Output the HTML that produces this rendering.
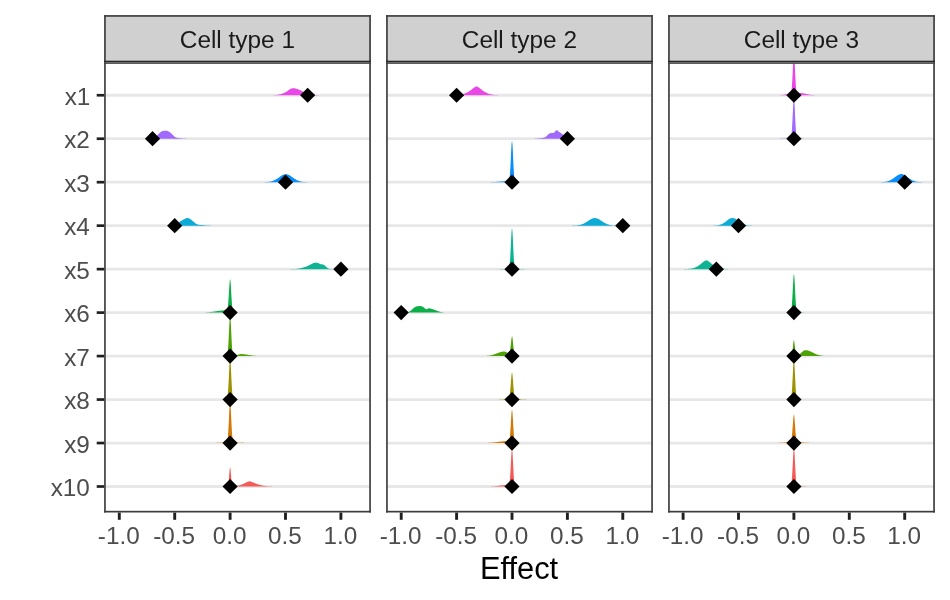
<!DOCTYPE html>
<html><head><meta charset="utf-8"><title>Effect</title>
<style>html,body{margin:0;padding:0;background:#fff}svg{display:block;will-change:transform}text{font-family:"Liberation Sans",sans-serif}</style></head><body>
<svg width="950" height="600" viewBox="0 0 950 600">
<rect width="950" height="600" fill="#fff"/>
<defs>
<clipPath id="cp0"><rect x="105" y="62.9" width="265" height="448.8"/></clipPath>
<clipPath id="cp1"><rect x="387" y="62.9" width="265" height="448.8"/></clipPath>
<clipPath id="cp2"><rect x="669" y="62.9" width="265" height="448.8"/></clipPath>
</defs>
<g clip-path="url(#cp0)">
<line x1="105" x2="370" y1="95.25" y2="95.25" stroke="#E7E7E7" stroke-width="2.8"/>
<line x1="105" x2="370" y1="138.72" y2="138.72" stroke="#E7E7E7" stroke-width="2.8"/>
<line x1="105" x2="370" y1="182.19" y2="182.19" stroke="#E7E7E7" stroke-width="2.8"/>
<line x1="105" x2="370" y1="225.67" y2="225.67" stroke="#E7E7E7" stroke-width="2.8"/>
<line x1="105" x2="370" y1="269.14" y2="269.14" stroke="#E7E7E7" stroke-width="2.8"/>
<line x1="105" x2="370" y1="312.61" y2="312.61" stroke="#E7E7E7" stroke-width="2.8"/>
<line x1="105" x2="370" y1="356.08" y2="356.08" stroke="#E7E7E7" stroke-width="2.8"/>
<line x1="105" x2="370" y1="399.55" y2="399.55" stroke="#E7E7E7" stroke-width="2.8"/>
<line x1="105" x2="370" y1="443.03" y2="443.03" stroke="#E7E7E7" stroke-width="2.8"/>
<line x1="105" x2="370" y1="486.50" y2="486.50" stroke="#E7E7E7" stroke-width="2.8"/>
<path d="M256.90 95.25L256.9 95.25L257.4 95.25L257.9 95.25L258.4 95.25L258.9 95.25L259.4 95.25L259.9 95.25L260.4 95.25L260.9 95.25L261.4 95.25L261.9 95.25L262.4 95.25L262.9 95.25L263.4 95.25L263.9 95.25L264.4 95.25L264.9 95.25L265.4 95.25L265.9 95.25L266.4 95.25L266.9 95.25L267.4 95.25L267.9 95.25L268.4 95.25L268.9 95.24L269.4 95.24L269.9 95.24L270.4 95.23L270.9 95.22L271.4 95.22L271.9 95.20L272.4 95.19L272.9 95.17L273.4 95.15L273.9 95.12L274.4 95.09L274.9 95.05L275.4 95.01L275.9 94.96L276.4 94.90L276.9 94.84L277.4 94.76L277.9 94.68L278.4 94.60L278.9 94.50L279.4 94.40L279.9 94.29L280.4 94.18L280.9 94.06L281.4 93.92L281.9 93.78L282.4 93.62L282.9 93.45L283.4 93.27L283.9 93.06L284.4 92.84L284.9 92.60L285.4 92.34L285.9 92.05L286.4 91.74L286.9 91.41L287.4 91.06L287.9 90.69L288.4 90.32L288.9 89.95L289.4 89.59L289.9 89.26L290.4 88.95L290.9 88.68L291.4 88.47L291.9 88.31L292.4 88.22L292.9 88.20L293.4 88.22L293.9 88.27L294.4 88.33L294.9 88.41L295.4 88.51L295.9 88.62L296.4 88.76L296.9 88.91L297.4 89.07L297.9 89.25L298.4 89.44L298.9 89.64L299.4 89.86L299.9 90.08L300.4 90.30L300.9 90.53L301.4 90.77L301.9 91.00L302.4 91.24L302.9 91.47L303.4 91.71L303.9 91.93L304.4 92.16L304.9 92.37L305.4 92.58L305.9 92.78L306.4 92.98L306.9 93.16L307.4 93.34L307.9 93.50L308.4 93.66L308.9 93.81L309.4 93.95L309.9 94.07L310.4 94.19L310.9 94.30L311.4 94.40L311.9 94.50L312.4 94.58L312.9 94.66L313.4 94.73L313.9 94.79L314.4 94.85L314.9 94.90L315.4 94.94L315.9 94.98L316.4 95.02L316.9 95.05L317.4 95.08L317.9 95.10L318.4 95.12L318.9 95.14L319.4 95.16L319.9 95.17L320.4 95.18L320.9 95.19L321.4 95.20L321.9 95.21L322.4 95.22L322.9 95.22L323.4 95.23L323.9 95.23L324.4 95.23L324.9 95.24L325.4 95.24L325.9 95.24L326.4 95.24L326.9 95.24L327.4 95.25L327.9 95.25L328.4 95.25L328.9 95.25L328.90 95.25Z" fill="#E849E6"/>
<path d="M139.10 138.72L139.1 138.72L139.6 138.72L140.1 138.72L140.6 138.72L141.1 138.72L141.6 138.72L142.1 138.72L142.6 138.72L143.1 138.72L143.6 138.72L144.1 138.72L144.6 138.72L145.1 138.72L145.6 138.72L146.1 138.72L146.6 138.72L147.1 138.72L147.6 138.72L148.1 138.72L148.6 138.72L149.1 138.72L149.6 138.71L150.1 138.71L150.6 138.69L151.1 138.67L151.6 138.63L152.1 138.58L152.6 138.50L153.1 138.38L153.6 138.23L154.1 138.02L154.6 137.76L155.1 137.44L155.6 137.06L156.1 136.63L156.6 136.14L157.1 135.61L157.6 135.06L158.1 134.49L158.6 133.93L159.1 133.39L159.6 132.89L160.1 132.43L160.6 132.03L161.1 131.69L161.6 131.42L162.1 131.20L162.6 131.04L163.1 130.94L163.6 130.87L164.1 130.84L164.6 130.82L165.1 130.82L165.6 130.82L166.1 130.84L166.6 130.87L167.1 130.93L167.6 131.04L168.1 131.19L168.6 131.40L169.1 131.67L169.6 132.00L170.1 132.39L170.6 132.83L171.1 133.31L171.6 133.82L172.1 134.34L172.6 134.86L173.1 135.37L173.6 135.84L174.1 136.26L174.6 136.64L175.1 136.96L175.6 137.23L176.1 137.45L176.6 137.63L177.1 137.78L177.6 137.90L178.1 137.99L178.6 138.06L179.1 138.12L179.6 138.18L180.1 138.22L180.6 138.27L181.1 138.31L181.6 138.36L182.1 138.40L182.6 138.44L183.1 138.48L183.6 138.51L184.1 138.54L184.6 138.57L185.1 138.60L185.6 138.62L186.1 138.64L186.6 138.66L187.1 138.67L187.6 138.68L188.1 138.69L188.6 138.70L189.1 138.70L189.6 138.71L190.1 138.71L190.6 138.72L191.1 138.72L191.6 138.72L192.1 138.72L192.6 138.72L193.1 138.72L193.6 138.72L194.1 138.72L194.6 138.72L195.1 138.72L195.10 138.72Z" fill="#A16AFD"/>
<path d="M258.60 182.19L258.6 182.19L259.1 182.19L259.6 182.19L260.1 182.19L260.6 182.19L261.1 182.18L261.6 182.18L262.1 182.18L262.6 182.17L263.1 182.16L263.6 182.16L264.1 182.14L264.6 182.13L265.1 182.12L265.6 182.10L266.1 182.07L266.6 182.05L267.1 182.01L267.6 181.97L268.1 181.92L268.6 181.87L269.1 181.80L269.6 181.73L270.1 181.64L270.6 181.54L271.1 181.42L271.6 181.29L272.1 181.14L272.6 180.98L273.1 180.80L273.6 180.59L274.1 180.37L274.6 180.13L275.1 179.87L275.6 179.60L276.1 179.30L276.6 178.99L277.1 178.67L277.6 178.33L278.1 177.98L278.6 177.63L279.1 177.27L279.6 176.91L280.1 176.56L280.6 176.22L281.1 175.89L281.6 175.58L282.1 175.29L282.6 175.03L283.1 174.80L283.6 174.60L284.1 174.44L284.6 174.32L285.1 174.24L285.6 174.20L286.1 174.20L286.6 174.25L287.1 174.34L287.6 174.47L288.1 174.64L288.6 174.84L289.1 175.08L289.6 175.35L290.1 175.64L290.6 175.96L291.1 176.29L291.6 176.63L292.1 176.99L292.6 177.34L293.1 177.70L293.6 178.05L294.1 178.40L294.6 178.73L295.1 179.05L295.6 179.36L296.1 179.65L296.6 179.93L297.1 180.18L297.6 180.42L298.1 180.64L298.6 180.83L299.1 181.01L299.6 181.17L300.1 181.32L300.6 181.45L301.1 181.56L301.6 181.66L302.1 181.74L302.6 181.82L303.1 181.88L303.6 181.93L304.1 181.98L304.6 182.02L305.1 182.05L305.6 182.08L306.1 182.10L306.6 182.12L307.1 182.13L307.6 182.15L308.1 182.16L308.6 182.17L309.1 182.17L309.6 182.18L310.1 182.18L310.6 182.18L311.1 182.19L311.6 182.19L312.1 182.19L312.6 182.19L312.60 182.19Z" fill="#0A8EFC"/>
<path d="M154.60 225.67L154.6 225.67L155.1 225.67L155.6 225.67L156.1 225.67L156.6 225.67L157.1 225.67L157.6 225.67L158.1 225.67L158.6 225.67L159.1 225.67L159.6 225.67L160.1 225.67L160.6 225.67L161.1 225.67L161.6 225.67L162.1 225.67L162.6 225.67L163.1 225.67L163.6 225.67L164.1 225.67L164.6 225.67L165.1 225.67L165.6 225.67L166.1 225.67L166.6 225.67L167.1 225.67L167.6 225.67L168.1 225.67L168.6 225.67L169.1 225.67L169.6 225.67L170.1 225.67L170.6 225.66L171.1 225.66L171.6 225.66L172.1 225.64L172.6 225.62L173.1 225.58L173.6 225.51L174.1 225.41L174.6 225.27L175.1 225.07L175.6 224.83L176.1 224.53L176.6 224.19L177.1 223.81L177.6 223.41L178.1 223.00L178.6 222.60L179.1 222.21L179.6 221.84L180.1 221.51L180.6 221.19L181.1 220.90L181.6 220.62L182.1 220.34L182.6 220.07L183.1 219.79L183.6 219.50L184.1 219.22L184.6 218.93L185.1 218.66L185.6 218.41L186.1 218.21L186.6 218.06L187.1 217.98L187.6 217.97L188.1 218.04L188.6 218.18L189.1 218.39L189.6 218.66L190.1 218.97L190.6 219.32L191.1 219.70L191.6 220.09L192.1 220.50L192.6 220.92L193.1 221.36L193.6 221.80L194.1 222.24L194.6 222.67L195.1 223.09L195.6 223.47L196.1 223.82L196.6 224.12L197.1 224.36L197.6 224.55L198.1 224.68L198.6 224.78L199.1 224.86L199.6 224.91L200.1 224.95L200.6 224.99L201.1 225.02L201.6 225.05L202.1 225.08L202.6 225.12L203.1 225.16L203.6 225.20L204.1 225.24L204.6 225.28L205.1 225.33L205.6 225.37L206.1 225.40L206.6 225.44L207.1 225.47L207.6 225.50L208.1 225.53L208.6 225.55L209.1 225.57L209.6 225.59L210.1 225.60L210.6 225.62L211.1 225.63L211.6 225.64L212.1 225.64L212.6 225.65L213.1 225.65L213.6 225.66L214.1 225.66L214.6 225.66L215.1 225.66L215.6 225.66L216.1 225.66L216.6 225.66L217.1 225.66L217.6 225.67L218.1 225.67L218.6 225.67L219.1 225.67L219.10 225.67Z" fill="#0DAAD6"/>
<path d="M285.60 269.14L285.6 269.14L286.1 269.14L286.6 269.14L287.1 269.14L287.6 269.14L288.1 269.14L288.6 269.13L289.1 269.13L289.6 269.13L290.1 269.13L290.6 269.12L291.1 269.12L291.6 269.11L292.1 269.10L292.6 269.09L293.1 269.08L293.6 269.06L294.1 269.04L294.6 269.02L295.1 268.99L295.6 268.95L296.1 268.91L296.6 268.86L297.1 268.80L297.6 268.74L298.1 268.67L298.6 268.59L299.1 268.50L299.6 268.41L300.1 268.31L300.6 268.20L301.1 268.08L301.6 267.96L302.1 267.84L302.6 267.70L303.1 267.56L303.6 267.42L304.1 267.27L304.6 267.12L305.1 266.97L305.6 266.81L306.1 266.65L306.6 266.48L307.1 266.29L307.6 266.09L308.1 265.86L308.6 265.62L309.1 265.37L309.6 265.10L310.1 264.83L310.6 264.55L311.1 264.27L311.6 264.00L312.1 263.75L312.6 263.51L313.1 263.29L313.6 263.10L314.1 262.93L314.6 262.80L315.1 262.70L315.6 262.64L316.1 262.60L316.6 262.63L317.1 262.73L317.6 262.90L318.1 263.12L318.6 263.36L319.1 263.60L319.6 263.82L320.1 263.99L320.6 264.13L321.1 264.22L321.6 264.29L322.1 264.35L322.6 264.45L323.1 264.60L323.6 264.82L324.1 265.11L324.6 265.46L325.1 265.85L325.6 266.27L326.1 266.70L326.6 267.13L327.1 267.52L327.6 267.88L328.1 268.19L328.6 268.44L329.1 268.64L329.6 268.79L330.1 268.91L330.6 268.99L331.1 269.04L331.6 269.08L332.1 269.10L332.6 269.12L333.1 269.13L333.6 269.13L334.1 269.13L334.6 269.14L335.1 269.14L335.6 269.14L336.1 269.14L336.6 269.14L337.1 269.14L337.6 269.14L338.1 269.14L338.6 269.14L339.1 269.14L339.6 269.14L340.1 269.14L340.6 269.14L341.1 269.14L341.6 269.14L342.1 269.14L342.10 269.14Z" fill="#0DB392"/>
<path d="M189.10 312.61L189.1 312.61L189.6 312.61L190.1 312.61L190.6 312.61L191.1 312.61L191.6 312.61L192.1 312.61L192.6 312.61L193.1 312.61L193.6 312.61L194.1 312.60L194.6 312.60L195.1 312.60L195.6 312.60L196.1 312.60L196.6 312.60L197.1 312.59L197.6 312.59L198.1 312.59L198.6 312.58L199.1 312.58L199.6 312.57L200.1 312.56L200.6 312.56L201.1 312.55L201.6 312.54L202.1 312.53L202.6 312.51L203.1 312.50L203.6 312.48L204.1 312.47L204.6 312.45L205.1 312.42L205.6 312.40L206.1 312.37L206.6 312.34L207.1 312.31L207.6 312.28L208.1 312.24L208.6 312.20L209.1 312.16L209.6 312.11L210.1 312.06L210.6 312.01L211.1 311.95L211.6 311.89L212.1 311.83L212.6 311.77L213.1 311.70L213.6 311.64L214.1 311.57L214.6 311.49L215.1 311.42L215.6 311.35L216.1 311.27L216.6 311.20L217.1 311.12L217.6 311.05L218.1 310.98L218.6 310.90L219.1 310.84L219.6 310.77L220.1 310.71L220.6 310.65L221.1 310.59L221.6 310.54L222.1 310.49L222.6 310.45L223.1 310.42L223.6 310.38L224.1 310.36L224.3 310.35L224.5 310.34L224.7 310.33L224.9 310.32L225.1 310.31L225.3 310.31L225.5 310.31L225.7 310.32L225.9 310.34L226.1 310.34L226.3 310.34L226.5 310.30L226.7 310.22L226.9 310.06L227.1 309.78L227.3 309.33L227.5 308.64L227.7 307.65L227.9 306.30L228.1 304.52L228.3 302.29L228.5 299.62L228.7 296.57L228.9 293.26L229.1 289.87L229.3 286.61L229.5 283.73L229.7 281.47L229.9 280.04L230.1 279.26L230.3 279.86L230.5 281.41L230.7 283.79L230.9 286.79L231.1 290.18L231.3 293.70L231.5 297.13L231.7 300.30L231.9 303.09L232.1 305.43L232.3 307.32L232.5 308.79L232.7 309.88L232.9 310.67L233.1 311.22L233.3 311.60L233.5 311.84L233.7 312.00L233.9 312.10L234.1 312.17L234.3 312.22L234.5 312.25L234.7 312.27L234.9 312.29L235.1 312.31L235.3 312.32L235.5 312.33L235.7 312.34L235.9 312.36L236.1 312.37L236.3 312.38L236.8 312.40L237.3 312.42L237.8 312.44L238.3 312.45L238.8 312.47L239.3 312.48L239.8 312.50L240.3 312.51L240.8 312.52L241.3 312.52L241.8 312.53L242.3 312.54L242.8 312.55L243.3 312.55L243.8 312.56L244.3 312.56L244.8 312.57L245.3 312.57L245.8 312.58L246.3 312.58L246.8 312.58L247.3 312.58L247.8 312.59L248.3 312.59L248.8 312.59L249.3 312.59L249.8 312.59L250.3 312.60L250.8 312.60L251.3 312.60L251.8 312.60L252.3 312.60L252.8 312.60L253.3 312.60L253.8 312.60L254.3 312.60L254.8 312.60L255.3 312.60L255.8 312.61L256.3 312.61L256.8 312.61L257.3 312.61L257.8 312.61L258.3 312.61L258.8 312.61L259.3 312.61L259.8 312.61L260.3 312.61L260.8 312.61L260.80 312.61Z" fill="#0CAE47"/>
<path d="M213.10 356.08L213.1 356.08L213.6 356.08L214.1 356.08L214.6 356.08L215.1 356.08L215.6 356.08L216.1 356.08L216.6 356.08L217.1 356.08L217.6 356.08L218.1 356.08L218.6 356.08L219.1 356.08L219.6 356.08L220.1 356.08L220.6 356.08L221.1 356.08L221.6 356.08L222.1 356.08L222.6 356.08L223.1 356.08L223.6 356.08L224.1 356.08L224.3 356.08L224.5 356.08L224.7 356.08L224.9 356.08L225.1 356.08L225.3 356.08L225.5 356.07L225.7 356.06L225.9 356.05L226.1 356.01L226.3 355.96L226.5 355.85L226.7 355.68L226.9 355.41L227.1 354.97L227.3 354.32L227.5 353.38L227.7 352.05L227.9 350.27L228.1 347.96L228.3 345.08L228.5 341.66L228.7 337.76L228.9 333.55L229.1 329.23L229.3 325.08L229.5 321.42L229.7 318.54L229.9 316.70L230.1 316.07L230.3 316.70L230.5 318.53L230.7 321.40L230.9 325.06L231.1 329.20L231.3 333.51L231.5 337.72L231.7 341.61L231.9 345.02L232.1 347.89L232.3 350.19L232.5 351.96L232.7 353.27L232.9 354.20L233.1 354.83L233.3 355.24L233.5 355.49L233.7 355.64L233.9 355.71L234.1 355.74L234.3 355.74L234.5 355.73L234.7 355.70L234.9 355.66L235.1 355.62L235.3 355.57L235.5 355.53L235.7 355.47L235.9 355.42L236.1 355.36L236.3 355.30L236.8 355.14L237.3 354.97L237.8 354.80L238.3 354.63L238.8 354.47L239.3 354.33L239.8 354.22L240.3 354.13L240.8 354.09L241.3 354.08L241.8 354.09L242.3 354.11L242.8 354.14L243.3 354.18L243.8 354.23L244.3 354.28L244.8 354.34L245.3 354.41L245.8 354.49L246.3 354.56L246.8 354.65L247.3 354.73L247.8 354.82L248.3 354.90L248.8 354.99L249.3 355.07L249.8 355.16L250.3 355.24L250.8 355.32L251.3 355.39L251.8 355.46L252.3 355.53L252.8 355.59L253.3 355.64L253.8 355.70L254.3 355.74L254.8 355.79L255.3 355.83L255.8 355.86L256.3 355.89L256.8 355.92L257.3 355.94L257.8 355.97L258.3 355.98L258.8 356.00L259.3 356.01L259.8 356.03L260.3 356.04L260.8 356.04L261.3 356.05L261.8 356.06L262.3 356.06L262.8 356.07L263.3 356.07L263.8 356.07L264.3 356.07L264.8 356.08L265.3 356.08L265.8 356.08L266.3 356.08L266.8 356.08L267.3 356.08L267.8 356.08L268.3 356.08L268.8 356.08L268.80 356.08Z" fill="#4FA206"/>
<path d="M206.10 399.55L206.1 399.55L206.6 399.55L207.1 399.55L207.6 399.55L208.1 399.55L208.6 399.55L209.1 399.55L209.6 399.55L210.1 399.55L210.6 399.54L211.1 399.54L211.6 399.54L212.1 399.54L212.6 399.54L213.1 399.54L213.6 399.53L214.1 399.53L214.6 399.53L215.1 399.53L215.6 399.52L216.1 399.52L216.6 399.51L217.1 399.51L217.6 399.50L218.1 399.49L218.6 399.49L219.1 399.48L219.6 399.47L220.1 399.46L220.6 399.44L221.1 399.43L221.6 399.41L222.1 399.39L222.6 399.37L223.1 399.35L223.6 399.32L224.1 399.29L224.3 399.27L224.5 399.26L224.7 399.24L224.9 399.23L225.1 399.21L225.3 399.19L225.5 399.17L225.7 399.14L225.9 399.10L226.1 399.04L226.3 398.96L226.5 398.84L226.7 398.64L226.9 398.34L227.1 397.88L227.3 397.20L227.5 396.22L227.7 394.87L227.9 393.05L228.1 390.70L228.3 387.79L228.5 384.33L228.7 380.40L228.9 376.13L229.1 371.77L229.3 367.58L229.5 363.87L229.7 360.94L229.9 359.05L230.1 358.35L230.3 359.05L230.5 360.94L230.7 363.87L230.9 367.58L231.1 371.77L231.3 376.13L231.5 380.40L231.7 384.33L231.9 387.79L232.1 390.70L232.3 393.05L232.5 394.87L232.7 396.22L232.9 397.20L233.1 397.88L233.3 398.34L233.5 398.64L233.7 398.84L233.9 398.96L234.1 399.04L234.3 399.10L234.5 399.14L234.7 399.17L234.9 399.19L235.1 399.21L235.3 399.23L235.5 399.24L235.7 399.26L235.9 399.27L236.1 399.29L236.3 399.30L236.8 399.33L237.3 399.36L237.8 399.38L238.3 399.40L238.8 399.42L239.3 399.43L239.8 399.45L240.3 399.46L240.8 399.47L241.3 399.48L241.8 399.49L242.3 399.50L242.8 399.50L243.3 399.51L243.8 399.51L244.3 399.52L244.8 399.52L245.3 399.53L245.8 399.53L246.3 399.53L246.8 399.54L247.3 399.54L247.8 399.54L248.3 399.54L248.8 399.54L249.3 399.54L249.8 399.55L250.3 399.55L250.8 399.55L251.3 399.55L251.8 399.55L252.3 399.55L252.8 399.55L253.3 399.55L253.8 399.55L253.80 399.55Z" fill="#9E9100"/>
<path d="M194.10 443.03L194.1 443.02L194.6 443.02L195.1 443.02L195.6 443.02L196.1 443.02L196.6 443.02L197.1 443.02L197.6 443.02L198.1 443.02L198.6 443.02L199.1 443.02L199.6 443.02L200.1 443.02L200.6 443.02L201.1 443.01L201.6 443.01L202.1 443.01L202.6 443.01L203.1 443.01L203.6 443.01L204.1 443.01L204.6 443.00L205.1 443.00L205.6 443.00L206.1 443.00L206.6 443.00L207.1 442.99L207.6 442.99L208.1 442.99L208.6 442.98L209.1 442.98L209.6 442.98L210.1 442.97L210.6 442.97L211.1 442.96L211.6 442.96L212.1 442.95L212.6 442.94L213.1 442.94L213.6 442.93L214.1 442.92L214.6 442.91L215.1 442.90L215.6 442.89L216.1 442.88L216.6 442.87L217.1 442.85L217.6 442.84L218.1 442.82L218.6 442.81L219.1 442.79L219.6 442.77L220.1 442.74L220.6 442.72L221.1 442.69L221.6 442.66L222.1 442.63L222.6 442.60L223.1 442.56L223.6 442.52L224.1 442.47L224.3 442.46L224.5 442.44L224.7 442.42L224.9 442.39L225.1 442.37L225.3 442.35L225.5 442.32L225.7 442.29L225.9 442.25L226.1 442.19L226.3 442.10L226.5 441.98L226.7 441.78L226.9 441.48L227.1 441.02L227.3 440.35L227.5 439.38L227.7 438.04L227.9 436.25L228.1 433.93L228.3 431.06L228.5 427.64L228.7 423.75L228.9 419.55L229.1 415.24L229.3 411.11L229.5 407.45L229.7 404.56L229.9 402.70L230.1 402.03L230.3 402.70L230.5 404.56L230.7 407.45L230.9 411.11L231.1 415.24L231.3 419.55L231.5 423.75L231.7 427.64L231.9 431.06L232.1 433.93L232.3 436.25L232.5 438.04L232.7 439.38L232.9 440.35L233.1 441.02L233.3 441.48L233.5 441.78L233.7 441.98L233.9 442.10L234.1 442.19L234.3 442.25L234.5 442.29L234.7 442.32L234.9 442.35L235.1 442.37L235.3 442.39L235.5 442.42L235.7 442.44L235.9 442.46L236.1 442.47L236.3 442.49L236.8 442.53L237.3 442.57L237.8 442.61L238.3 442.64L238.8 442.67L239.3 442.70L239.8 442.73L240.3 442.75L240.8 442.77L241.3 442.79L241.8 442.81L242.3 442.83L242.8 442.85L243.3 442.86L243.8 442.87L244.3 442.89L244.8 442.90L245.3 442.91L245.8 442.92L246.3 442.93L246.8 442.93L247.3 442.94L247.8 442.95L248.3 442.95L248.8 442.96L249.3 442.96L249.8 442.97L250.3 442.97L250.8 442.98L251.3 442.98L251.8 442.99L252.3 442.99L252.8 442.99L253.3 442.99L253.8 443.00L254.3 443.00L254.8 443.00L255.3 443.00L255.8 443.01L256.3 443.01L256.8 443.01L257.3 443.01L257.8 443.01L258.3 443.01L258.8 443.01L259.3 443.01L259.8 443.02L260.3 443.02L260.8 443.02L261.3 443.02L261.8 443.02L262.3 443.02L262.8 443.02L263.3 443.02L263.8 443.02L264.3 443.02L264.8 443.02L265.3 443.02L265.8 443.02L265.80 443.03Z" fill="#D37905"/>
<path d="M226.30 486.50L226.3 486.47L226.5 486.46L226.7 486.45L226.9 486.43L227.1 486.39L227.3 486.31L227.5 486.16L227.7 485.91L227.9 485.49L228.1 484.84L228.3 483.87L228.5 482.52L228.7 480.77L228.9 478.62L229.1 476.17L229.3 473.62L229.5 471.20L229.7 469.20L229.9 467.87L230.1 467.40L230.3 467.85L230.5 469.17L230.7 471.16L230.9 473.57L231.1 476.11L231.3 478.54L231.5 480.68L231.7 482.42L231.9 483.75L232.1 484.71L232.3 485.35L232.5 485.75L232.7 485.99L232.9 486.12L233.1 486.18L233.3 486.21L233.5 486.21L233.7 486.20L233.9 486.19L234.1 486.18L234.3 486.16L234.5 486.14L234.7 486.12L234.9 486.10L235.1 486.08L235.6 486.02L236.1 485.96L236.6 485.88L237.1 485.80L237.6 485.71L238.1 485.62L238.6 485.51L239.1 485.39L239.6 485.26L240.1 485.12L240.6 484.97L241.1 484.81L241.6 484.63L242.1 484.44L242.6 484.24L243.1 484.03L243.6 483.81L244.1 483.58L244.6 483.34L245.1 483.10L245.6 482.85L246.1 482.60L246.6 482.36L247.1 482.12L247.6 481.89L248.1 481.68L248.6 481.50L249.1 481.36L249.6 481.30L250.1 481.38L250.6 481.51L251.1 481.66L251.6 481.83L252.1 482.02L252.6 482.22L253.1 482.43L253.6 482.63L254.1 482.85L254.6 483.05L255.1 483.26L255.6 483.47L256.1 483.66L256.6 483.86L257.1 484.04L257.6 484.22L258.1 484.39L258.6 484.55L259.1 484.70L259.6 484.85L260.1 484.99L260.6 485.11L261.1 485.23L261.6 485.35L262.1 485.45L262.6 485.55L263.1 485.63L263.6 485.72L264.1 485.79L264.6 485.86L265.1 485.93L265.6 485.98L266.1 486.04L266.6 486.08L267.1 486.13L267.6 486.17L268.1 486.20L268.6 486.24L269.1 486.27L269.6 486.29L270.1 486.31L270.6 486.34L271.1 486.35L271.6 486.37L272.1 486.39L272.6 486.40L272.60 486.50Z" fill="#F45B58"/>
<path d="M307.66 87.65L315.26 95.25L307.66 102.85L300.06 95.25Z" fill="#000"/>
<path d="M152.54 131.12L160.14 138.72L152.54 146.32L144.94 138.72Z" fill="#000"/>
<path d="M285.50 174.59L293.10 182.19L285.50 189.79L277.90 182.19Z" fill="#000"/>
<path d="M174.70 218.07L182.30 225.67L174.70 233.27L167.10 225.67Z" fill="#000"/>
<path d="M340.90 261.54L348.50 269.14L340.90 276.74L333.30 269.14Z" fill="#000"/>
<path d="M230.10 305.01L237.70 312.61L230.10 320.21L222.50 312.61Z" fill="#000"/>
<path d="M230.10 348.48L237.70 356.08L230.10 363.68L222.50 356.08Z" fill="#000"/>
<path d="M230.10 391.95L237.70 399.55L230.10 407.15L222.50 399.55Z" fill="#000"/>
<path d="M230.10 435.43L237.70 443.03L230.10 450.63L222.50 443.03Z" fill="#000"/>
<path d="M230.10 478.90L237.70 486.50L230.10 494.10L222.50 486.50Z" fill="#000"/>
</g>
<rect x="104.1" y="15.1" width="266.8" height="47.2" fill="#D0D0D0"/>
<rect x="104.1" y="15.1" width="266.8" height="1.7" fill="#414141"/>
<rect x="104.1" y="15.1" width="1.7" height="47.2" fill="#414141"/>
<rect x="369.2" y="15.1" width="1.7" height="47.2" fill="#414141"/>
<rect x="104.1" y="60.7" width="266.8" height="1.6" fill="#262626"/>
<rect x="104.1" y="62.3" width="266.8" height="1.6" fill="#4c4c4c"/>
<rect x="104.1" y="62.3" width="1.7" height="450.2" fill="#414141"/>
<rect x="369.2" y="62.3" width="1.7" height="450.2" fill="#414141"/>
<rect x="104.1" y="510.8" width="266.8" height="1.7" fill="#3c3c3c"/>
<text x="237.4" y="47.7" font-size="24.4" text-anchor="middle" fill="#1a1a1a">Cell type 1</text>
<line x1="119.30" x2="119.30" y1="512.6" y2="519.8" stroke="#202020" stroke-width="2.9"/>
<text x="118.80" y="543.7" font-size="24.3" text-anchor="middle" fill="#4d4d4d">-1.0</text>
<line x1="174.70" x2="174.70" y1="512.6" y2="519.8" stroke="#202020" stroke-width="2.9"/>
<text x="174.20" y="543.7" font-size="24.3" text-anchor="middle" fill="#4d4d4d">-0.5</text>
<line x1="230.10" x2="230.10" y1="512.6" y2="519.8" stroke="#202020" stroke-width="2.9"/>
<text x="229.60" y="543.7" font-size="24.3" text-anchor="middle" fill="#4d4d4d">0.0</text>
<line x1="285.50" x2="285.50" y1="512.6" y2="519.8" stroke="#202020" stroke-width="2.9"/>
<text x="285.00" y="543.7" font-size="24.3" text-anchor="middle" fill="#4d4d4d">0.5</text>
<line x1="340.90" x2="340.90" y1="512.6" y2="519.8" stroke="#202020" stroke-width="2.9"/>
<text x="340.40" y="543.7" font-size="24.3" text-anchor="middle" fill="#4d4d4d">1.0</text>
<g clip-path="url(#cp1)">
<line x1="387" x2="652" y1="95.25" y2="95.25" stroke="#E7E7E7" stroke-width="2.8"/>
<line x1="387" x2="652" y1="138.72" y2="138.72" stroke="#E7E7E7" stroke-width="2.8"/>
<line x1="387" x2="652" y1="182.19" y2="182.19" stroke="#E7E7E7" stroke-width="2.8"/>
<line x1="387" x2="652" y1="225.67" y2="225.67" stroke="#E7E7E7" stroke-width="2.8"/>
<line x1="387" x2="652" y1="269.14" y2="269.14" stroke="#E7E7E7" stroke-width="2.8"/>
<line x1="387" x2="652" y1="312.61" y2="312.61" stroke="#E7E7E7" stroke-width="2.8"/>
<line x1="387" x2="652" y1="356.08" y2="356.08" stroke="#E7E7E7" stroke-width="2.8"/>
<line x1="387" x2="652" y1="399.55" y2="399.55" stroke="#E7E7E7" stroke-width="2.8"/>
<line x1="387" x2="652" y1="443.03" y2="443.03" stroke="#E7E7E7" stroke-width="2.8"/>
<line x1="387" x2="652" y1="486.50" y2="486.50" stroke="#E7E7E7" stroke-width="2.8"/>
<path d="M455.00 95.25L455.0 95.09L455.5 95.06L456.0 95.04L456.5 95.00L457.0 94.97L457.5 94.93L458.0 94.89L458.5 94.84L459.0 94.78L459.5 94.72L460.0 94.65L460.5 94.57L461.0 94.49L461.5 94.39L462.0 94.29L462.5 94.17L463.0 94.04L463.5 93.90L464.0 93.75L464.5 93.59L465.0 93.41L465.5 93.21L466.0 93.00L466.5 92.77L467.0 92.53L467.5 92.27L468.0 91.99L468.5 91.70L469.0 91.39L469.5 91.06L470.0 90.72L470.5 90.37L471.0 90.00L471.5 89.63L472.0 89.24L472.5 88.86L473.0 88.47L473.5 88.09L474.0 87.72L474.5 87.37L475.0 87.04L475.5 86.75L476.0 86.51L476.5 86.36L477.0 86.44L477.5 86.66L478.0 86.95L478.5 87.28L479.0 87.64L479.5 88.02L480.0 88.42L480.5 88.82L481.0 89.22L481.5 89.62L482.0 90.01L482.5 90.39L483.0 90.75L483.5 91.11L484.0 91.44L484.5 91.76L485.0 92.06L485.5 92.34L486.0 92.61L486.5 92.86L487.0 93.09L487.5 93.30L488.0 93.49L488.5 93.67L489.0 93.84L489.5 93.99L490.0 94.13L490.5 94.25L491.0 94.36L491.5 94.46L492.0 94.55L492.5 94.64L493.0 94.71L493.5 94.77L494.0 94.83L494.5 94.88L495.0 94.93L495.5 94.97L496.0 95.01L496.5 95.04L497.0 95.07L497.5 95.09L498.0 95.11L498.00 95.25Z" fill="#E849E6"/>
<path d="M525.00 138.72L525.0 138.72L525.5 138.72L526.0 138.72L526.5 138.72L527.0 138.72L527.2 138.72L527.4 138.72L527.6 138.72L527.8 138.72L528.0 138.72L528.2 138.72L528.4 138.72L528.6 138.72L528.8 138.72L529.0 138.72L529.2 138.72L529.4 138.72L529.6 138.71L529.8 138.71L530.0 138.71L530.2 138.71L530.4 138.71L530.6 138.71L530.8 138.71L531.0 138.70L531.2 138.70L531.4 138.70L531.6 138.70L531.8 138.69L532.0 138.69L532.2 138.69L532.4 138.68L532.6 138.68L532.8 138.68L533.0 138.67L533.2 138.67L533.4 138.66L533.6 138.66L533.8 138.65L534.0 138.64L534.2 138.63L534.4 138.63L534.6 138.62L534.8 138.61L535.0 138.60L535.2 138.59L535.4 138.58L535.6 138.57L535.8 138.56L536.0 138.54L536.2 138.53L536.4 138.52L536.6 138.50L536.8 138.49L537.0 138.47L537.2 138.46L537.4 138.44L537.6 138.42L537.8 138.40L538.0 138.38L538.2 138.37L538.4 138.35L538.6 138.33L538.8 138.30L539.0 138.28L539.2 138.26L539.4 138.24L539.6 138.22L539.8 138.20L540.0 138.18L540.2 138.15L540.4 138.13L540.6 138.11L540.8 138.09L541.0 138.06L541.2 138.04L541.4 138.02L541.6 138.00L541.8 137.97L542.0 137.95L542.2 137.93L542.4 137.90L542.6 137.87L542.8 137.85L543.0 137.81L543.2 137.78L543.4 137.74L543.6 137.70L543.8 137.65L544.0 137.60L544.2 137.53L544.4 137.46L544.6 137.38L544.8 137.30L545.0 137.20L545.2 137.09L545.4 136.97L545.6 136.84L545.8 136.70L546.0 136.55L546.2 136.39L546.4 136.22L546.6 136.04L546.8 135.86L547.0 135.66L547.2 135.47L547.4 135.27L547.6 135.06L547.8 134.86L548.0 134.66L548.2 134.47L548.4 134.28L548.6 134.10L548.8 133.93L549.0 133.77L549.2 133.63L549.4 133.50L549.6 133.38L549.8 133.28L550.0 133.20L550.2 133.13L550.4 133.08L550.6 133.04L550.8 133.02L551.0 133.00L551.2 133.00L551.4 132.99L551.6 132.99L551.8 132.98L552.0 132.98L552.2 132.97L552.4 132.95L552.6 132.94L552.8 132.92L553.0 132.89L553.2 132.85L553.4 132.80L553.6 132.73L553.8 132.64L554.0 132.53L554.2 132.40L554.4 132.24L554.6 132.06L554.8 131.85L555.0 131.63L555.2 131.39L555.4 131.15L555.6 130.92L555.8 130.69L556.0 130.49L556.2 130.33L556.4 130.21L556.6 130.15L556.8 130.15L557.0 130.21L557.2 130.36L557.4 130.53L557.6 130.70L557.8 130.87L558.0 131.04L558.2 131.20L558.4 131.36L558.6 131.52L558.8 131.67L559.0 131.81L559.2 131.96L559.4 132.10L559.6 132.23L559.8 132.37L560.0 132.50L560.2 132.64L560.4 132.77L560.6 132.90L560.8 133.03L561.0 133.17L561.2 133.30L561.4 133.43L561.6 133.57L561.8 133.70L562.0 133.84L562.2 133.97L562.4 134.11L562.6 134.24L562.8 134.38L563.0 134.52L563.2 134.65L563.4 134.79L563.6 134.93L563.8 135.06L564.0 135.20L564.2 135.33L564.4 135.46L564.6 135.59L564.8 135.72L565.0 135.84L565.2 135.97L565.4 136.09L565.6 136.21L565.8 136.32L566.0 136.44L566.2 136.55L566.4 136.65L566.6 136.76L566.8 136.86L567.0 136.96L567.2 137.05L567.4 137.14L567.6 137.23L567.8 137.31L568.0 137.40L568.2 137.47L568.4 137.55L568.6 137.62L568.8 137.69L569.0 137.75L569.2 137.82L569.4 137.87L569.6 137.93L569.8 137.98L570.0 138.03L570.2 138.08L570.4 138.13L570.6 138.17L570.8 138.21L571.0 138.25L571.2 138.28L571.4 138.31L571.6 138.35L571.8 138.38L572.0 138.40L572.2 138.43L572.4 138.45L572.6 138.47L572.8 138.49L573.0 138.51L573.2 138.53L573.4 138.55L573.6 138.56L573.8 138.58L574.0 138.59L574.2 138.60L574.4 138.61L574.6 138.62L574.8 138.63L575.0 138.64L575.2 138.65L575.4 138.65L575.6 138.66L575.8 138.67L576.0 138.67L576.2 138.68L576.4 138.68L576.6 138.69L576.8 138.69L577.0 138.69L577.2 138.70L577.4 138.70L577.6 138.70L577.8 138.70L578.0 138.71L578.2 138.71L578.4 138.71L578.6 138.71L578.8 138.71L579.0 138.71L579.2 138.71L579.4 138.71L579.6 138.72L579.8 138.72L580.0 138.72L580.2 138.72L580.4 138.72L580.6 138.72L580.8 138.72L581.0 138.72L581.2 138.72L581.20 138.72Z" fill="#A16AFD"/>
<path d="M480.00 182.19L480.0 182.19L480.5 182.19L481.0 182.19L481.5 182.19L482.0 182.19L482.5 182.19L483.0 182.19L483.5 182.19L484.0 182.19L484.5 182.19L485.0 182.19L485.5 182.19L486.0 182.19L486.5 182.18L487.0 182.18L487.5 182.18L488.0 182.17L488.5 182.17L489.0 182.16L489.5 182.16L490.0 182.15L490.5 182.14L491.0 182.13L491.5 182.12L492.0 182.11L492.5 182.09L493.0 182.07L493.5 182.05L494.0 182.03L494.5 182.01L495.0 181.98L495.5 181.95L496.0 181.92L496.5 181.88L497.0 181.85L497.5 181.81L498.0 181.77L498.5 181.73L499.0 181.69L499.5 181.65L500.0 181.61L500.5 181.56L501.0 181.52L501.5 181.49L502.0 181.45L502.5 181.42L503.0 181.38L503.5 181.36L504.0 181.34L504.5 181.32L505.0 181.30L505.5 181.30L506.0 181.29L506.2 181.30L506.4 181.30L506.6 181.31L506.8 181.32L507.0 181.34L507.2 181.36L507.4 181.38L507.6 181.40L507.8 181.41L508.0 181.40L508.2 181.38L508.4 181.31L508.6 181.17L508.8 180.92L509.0 180.51L509.2 179.88L509.4 178.95L509.6 177.63L509.8 175.83L510.0 173.50L510.2 170.59L510.4 167.11L510.6 163.15L510.8 158.85L511.0 154.45L511.2 150.23L511.4 146.50L511.6 143.57L511.8 141.70L512.0 141.07L512.2 141.74L512.4 143.63L512.6 146.59L512.8 150.36L513.0 154.61L513.2 159.05L513.4 163.38L513.6 167.38L513.8 170.89L514.0 173.84L514.2 176.22L514.4 178.05L514.6 179.41L514.8 180.38L515.0 181.05L515.2 181.49L515.4 181.78L515.6 181.95L515.8 182.06L516.0 182.12L516.2 182.15L516.4 182.17L516.6 182.18L516.8 182.19L517.0 182.19L517.2 182.19L517.4 182.19L517.6 182.19L517.8 182.19L518.0 182.19L518.2 182.19L518.7 182.19L519.2 182.19L519.7 182.19L520.2 182.19L520.7 182.19L521.2 182.19L521.7 182.19L522.2 182.19L522.7 182.19L523.2 182.19L523.7 182.19L524.2 182.19L524.7 182.19L525.2 182.19L525.7 182.19L526.2 182.19L526.7 182.19L527.2 182.19L527.7 182.19L528.2 182.19L528.7 182.19L529.2 182.19L529.7 182.19L530.2 182.19L530.7 182.19L531.2 182.19L531.7 182.19L531.70 182.19Z" fill="#0A8EFC"/>
<path d="M566.90 225.67L566.9 225.66L567.4 225.66L567.9 225.66L568.4 225.66L568.9 225.66L569.4 225.66L569.9 225.65L570.4 225.65L570.9 225.64L571.4 225.64L571.9 225.63L572.4 225.62L572.9 225.61L573.4 225.60L573.9 225.58L574.4 225.56L574.9 225.54L575.4 225.51L575.9 225.48L576.4 225.43L576.9 225.39L577.4 225.33L577.9 225.27L578.4 225.19L578.9 225.11L579.4 225.01L579.9 224.90L580.4 224.78L580.9 224.64L581.4 224.48L581.9 224.31L582.4 224.12L582.9 223.92L583.4 223.69L583.9 223.45L584.4 223.20L584.9 222.93L585.4 222.64L585.9 222.34L586.4 222.03L586.9 221.71L587.4 221.39L587.9 221.06L588.4 220.73L588.9 220.40L589.4 220.08L589.9 219.78L590.4 219.48L590.9 219.21L591.4 218.96L591.9 218.73L592.4 218.54L592.9 218.37L593.4 218.24L593.9 218.14L594.4 218.09L594.9 218.07L595.4 218.09L595.9 218.15L596.4 218.25L596.9 218.39L597.4 218.56L597.9 218.77L598.4 219.01L598.9 219.27L599.4 219.56L599.9 219.87L600.4 220.19L600.9 220.52L601.4 220.85L601.9 221.19L602.4 221.53L602.9 221.86L603.4 222.19L603.9 222.50L604.4 222.80L604.9 223.09L605.4 223.36L605.9 223.61L606.4 223.85L606.9 224.06L607.4 224.26L607.9 224.44L608.4 224.61L608.9 224.75L609.4 224.88L609.9 225.00L610.4 225.10L610.9 225.19L611.4 225.27L611.9 225.33L612.4 225.39L612.9 225.44L613.4 225.48L613.9 225.51L614.4 225.54L614.9 225.57L615.4 225.59L615.9 225.60L616.4 225.61L616.9 225.63L617.4 225.63L617.9 225.64L618.4 225.65L618.9 225.65L619.4 225.65L619.9 225.66L620.4 225.66L620.9 225.66L621.4 225.66L621.9 225.66L622.4 225.66L622.9 225.66L622.90 225.67Z" fill="#0DAAD6"/>
<path d="M494.00 269.14L494.0 269.14L494.5 269.14L495.0 269.14L495.5 269.13L496.0 269.13L496.5 269.13L497.0 269.13L497.5 269.13L498.0 269.13L498.5 269.13L499.0 269.13L499.5 269.13L500.0 269.12L500.5 269.12L501.0 269.12L501.5 269.11L502.0 269.11L502.5 269.10L503.0 269.10L503.5 269.09L504.0 269.08L504.5 269.07L505.0 269.06L505.5 269.05L506.0 269.03L506.2 269.02L506.4 269.01L506.6 269.01L506.8 269.00L507.0 268.99L507.2 268.97L507.4 268.96L507.6 268.94L507.8 268.91L508.0 268.86L508.2 268.79L508.4 268.67L508.6 268.48L508.8 268.19L509.0 267.74L509.2 267.07L509.4 266.10L509.6 264.75L509.8 262.94L510.0 260.61L510.2 257.70L510.4 254.25L510.6 250.32L510.8 246.07L511.0 241.71L511.2 237.53L511.4 233.83L511.6 230.91L511.8 229.02L512.0 228.34L512.2 229.02L512.4 230.91L512.6 233.83L512.8 237.53L513.0 241.71L513.2 246.07L513.4 250.32L513.6 254.25L513.8 257.70L514.0 260.61L514.2 262.94L514.4 264.75L514.6 266.10L514.8 267.07L515.0 267.74L515.2 268.19L515.4 268.48L515.6 268.67L515.8 268.79L516.0 268.86L516.2 268.91L516.4 268.94L516.6 268.96L516.8 268.97L517.0 268.99L517.2 269.00L517.4 269.01L517.6 269.01L517.8 269.02L518.0 269.03L518.2 269.04L518.7 269.05L519.2 269.07L519.7 269.08L520.2 269.09L520.7 269.09L521.2 269.10L521.7 269.11L522.2 269.11L522.7 269.12L523.2 269.12L523.7 269.12L524.2 269.12L524.7 269.13L525.2 269.13L525.7 269.13L526.2 269.13L526.7 269.13L527.2 269.13L527.7 269.13L528.2 269.13L528.7 269.13L529.2 269.14L529.7 269.14L529.70 269.14Z" fill="#0DB392"/>
<path d="M393.50 312.61L393.5 312.61L394.0 312.61L394.5 312.61L395.0 312.61L395.5 312.61L396.0 312.61L396.5 312.61L397.0 312.61L397.5 312.61L398.0 312.61L398.5 312.61L399.0 312.61L399.2 312.61L399.4 312.61L399.6 312.61L399.8 312.61L400.0 312.61L400.2 312.61L400.4 312.61L400.6 312.61L400.8 312.61L401.0 312.61L401.2 312.61L401.4 312.61L401.6 312.61L401.8 312.61L402.0 312.61L402.2 312.61L402.4 312.61L402.6 312.61L402.8 312.61L403.0 312.61L403.2 312.61L403.4 312.61L403.6 312.61L403.8 312.60L404.0 312.60L404.2 312.60L404.4 312.60L404.6 312.59L404.8 312.59L405.0 312.58L405.2 312.58L405.4 312.57L405.6 312.56L405.8 312.55L406.0 312.54L406.2 312.52L406.4 312.50L406.6 312.48L406.8 312.45L407.0 312.42L407.2 312.39L407.4 312.35L407.6 312.31L407.8 312.26L408.0 312.20L408.2 312.14L408.4 312.07L408.6 311.99L408.8 311.91L409.0 311.82L409.2 311.72L409.4 311.61L409.6 311.50L409.8 311.38L410.0 311.25L410.2 311.11L410.4 310.96L410.6 310.81L410.8 310.65L411.0 310.49L411.2 310.31L411.4 310.14L411.6 309.96L411.8 309.78L412.0 309.59L412.2 309.41L412.4 309.22L412.6 309.04L412.8 308.85L413.0 308.67L413.2 308.49L413.4 308.31L413.6 308.14L413.8 307.97L414.0 307.81L414.2 307.65L414.4 307.50L414.6 307.36L414.8 307.23L415.0 307.10L415.2 306.99L415.4 306.88L415.6 306.78L415.8 306.68L416.0 306.60L416.2 306.52L416.4 306.45L416.6 306.39L416.8 306.34L417.0 306.29L417.2 306.25L417.4 306.22L417.6 306.19L417.8 306.17L418.0 306.15L418.2 306.14L418.4 306.13L418.6 306.12L418.8 306.11L419.0 306.11L419.2 306.11L419.4 306.11L419.6 306.11L419.8 306.11L420.0 306.11L420.2 306.12L420.4 306.12L420.6 306.14L420.8 306.15L421.0 306.18L421.2 306.21L421.4 306.24L421.6 306.29L421.8 306.34L422.0 306.41L422.2 306.48L422.4 306.57L422.6 306.66L422.8 306.77L423.0 306.89L423.2 307.02L423.4 307.16L423.6 307.30L423.8 307.46L424.0 307.62L424.2 307.79L424.4 307.96L424.6 308.13L424.8 308.30L425.0 308.47L425.2 308.62L425.4 308.76L425.6 308.89L425.8 309.00L426.0 309.09L426.2 309.15L426.4 309.19L426.6 309.20L426.8 309.18L427.0 309.14L427.2 309.07L427.4 308.98L427.6 308.87L427.8 308.75L428.0 308.63L428.2 308.51L428.4 308.40L428.6 308.31L428.8 308.25L429.0 308.21L429.2 308.22L429.4 308.26L429.6 308.32L429.8 308.38L430.0 308.43L430.2 308.48L430.4 308.53L430.6 308.58L430.8 308.63L431.0 308.68L431.2 308.73L431.4 308.79L431.6 308.84L431.8 308.89L432.0 308.95L432.2 309.01L432.4 309.07L432.6 309.13L432.8 309.20L433.0 309.26L433.2 309.33L433.4 309.41L433.6 309.48L433.8 309.55L434.0 309.63L434.2 309.70L434.4 309.78L434.6 309.86L434.8 309.94L435.0 310.02L435.2 310.10L435.4 310.18L435.6 310.26L435.8 310.35L436.0 310.43L436.2 310.51L436.4 310.58L436.6 310.66L436.8 310.74L437.0 310.82L437.2 310.89L437.4 310.97L437.6 311.04L437.8 311.11L438.0 311.18L438.2 311.25L438.4 311.31L438.6 311.38L438.8 311.44L439.0 311.50L439.2 311.56L439.4 311.61L439.6 311.67L439.8 311.72L440.0 311.77L440.2 311.82L440.4 311.86L440.6 311.91L440.8 311.95L441.0 311.99L441.2 312.03L441.4 312.07L441.6 312.10L441.8 312.14L442.0 312.17L442.2 312.20L442.4 312.23L442.6 312.25L442.8 312.28L443.0 312.30L443.2 312.33L443.4 312.35L443.6 312.37L443.8 312.39L444.0 312.40L444.2 312.42L444.4 312.43L444.6 312.45L444.8 312.46L445.0 312.47L445.2 312.49L445.4 312.50L445.6 312.51L445.8 312.51L446.0 312.52L446.2 312.53L446.4 312.54L446.6 312.54L446.8 312.55L447.0 312.56L447.2 312.56L447.4 312.57L447.6 312.57L447.8 312.57L448.0 312.58L448.2 312.58L448.4 312.58L448.6 312.59L448.8 312.59L449.0 312.59L449.2 312.59L449.4 312.59L449.6 312.60L449.8 312.60L450.0 312.60L450.2 312.60L450.4 312.60L450.6 312.60L450.8 312.60L451.0 312.60L451.2 312.60L451.4 312.61L451.6 312.61L451.8 312.61L452.0 312.61L452.2 312.61L452.4 312.61L452.6 312.61L452.8 312.61L453.0 312.61L453.2 312.61L453.4 312.61L453.40 312.61Z" fill="#0CAE47"/>
<path d="M476.00 356.08L476.0 356.08L476.5 356.08L477.0 356.08L477.5 356.08L478.0 356.08L478.5 356.08L479.0 356.07L479.5 356.07L480.0 356.07L480.5 356.07L481.0 356.06L481.5 356.06L482.0 356.05L482.5 356.04L483.0 356.03L483.5 356.02L484.0 356.01L484.5 355.99L485.0 355.97L485.5 355.94L486.0 355.92L486.5 355.88L487.0 355.85L487.5 355.80L488.0 355.75L488.5 355.69L489.0 355.63L489.5 355.56L490.0 355.47L490.5 355.38L491.0 355.28L491.5 355.17L492.0 355.05L492.5 354.91L493.0 354.77L493.5 354.62L494.0 354.46L494.5 354.29L495.0 354.11L495.5 353.93L496.0 353.74L496.5 353.54L497.0 353.35L497.5 353.15L498.0 352.96L498.5 352.77L499.0 352.59L499.5 352.41L500.0 352.25L500.5 352.10L501.0 351.96L501.5 351.84L502.0 351.74L502.5 351.66L503.0 351.60L503.5 351.56L504.0 351.55L504.5 351.58L505.0 351.67L505.5 351.83L506.0 352.04L506.2 352.14L506.4 352.25L506.6 352.36L506.8 352.47L507.0 352.59L507.2 352.71L507.4 352.83L507.6 352.96L507.8 353.08L508.0 353.19L508.2 353.29L508.4 353.37L508.6 353.42L508.8 353.41L509.0 353.33L509.2 353.15L509.4 352.83L509.6 352.33L509.8 351.61L510.0 350.65L510.2 349.42L510.4 347.94L510.6 346.24L510.8 344.38L511.0 342.47L511.2 340.63L511.4 339.01L511.6 337.73L511.8 336.93L512.0 335.97L512.2 336.38L512.4 337.33L512.6 338.75L512.8 340.52L513.0 342.51L513.2 344.57L513.4 346.57L513.6 348.43L513.8 350.06L514.0 351.44L514.2 352.56L514.4 353.43L514.6 354.08L514.8 354.56L515.0 354.91L515.2 355.14L515.4 355.31L515.6 355.42L515.8 355.50L516.0 355.56L516.2 355.60L516.4 355.64L516.6 355.67L516.8 355.69L517.0 355.71L517.2 355.74L517.4 355.75L517.6 355.77L517.8 355.79L518.0 355.80L518.2 355.82L518.7 355.85L519.2 355.88L519.7 355.90L520.2 355.93L520.7 355.94L521.2 355.96L521.7 355.98L522.2 355.99L522.7 356.00L523.2 356.01L523.7 356.02L524.2 356.03L524.7 356.03L525.2 356.04L525.7 356.04L526.2 356.05L526.7 356.05L527.2 356.06L527.7 356.06L528.2 356.06L528.7 356.06L529.2 356.07L529.7 356.07L530.2 356.07L530.7 356.07L531.2 356.07L531.7 356.07L532.2 356.07L532.7 356.08L533.2 356.08L533.7 356.08L534.2 356.08L534.7 356.08L535.2 356.08L535.7 356.08L535.70 356.08Z" fill="#4FA206"/>
<path d="M479.00 399.55L479.0 399.55L479.5 399.55L480.0 399.55L480.5 399.55L481.0 399.55L481.5 399.55L482.0 399.55L482.5 399.55L483.0 399.55L483.5 399.55L484.0 399.54L484.5 399.54L485.0 399.54L485.5 399.54L486.0 399.54L486.5 399.54L487.0 399.54L487.5 399.54L488.0 399.53L488.5 399.53L489.0 399.53L489.5 399.53L490.0 399.52L490.5 399.52L491.0 399.52L491.5 399.51L492.0 399.51L492.5 399.50L493.0 399.50L493.5 399.49L494.0 399.49L494.5 399.48L495.0 399.47L495.5 399.46L496.0 399.45L496.5 399.44L497.0 399.43L497.5 399.42L498.0 399.40L498.5 399.39L499.0 399.37L499.5 399.35L500.0 399.33L500.5 399.30L501.0 399.28L501.5 399.25L502.0 399.22L502.5 399.18L503.0 399.14L503.5 399.10L504.0 399.05L504.5 399.00L505.0 398.94L505.5 398.87L506.0 398.80L506.2 398.77L506.4 398.74L506.6 398.70L506.8 398.67L507.0 398.63L507.2 398.59L507.4 398.55L507.6 398.51L507.8 398.45L508.0 398.39L508.2 398.31L508.4 398.20L508.6 398.04L508.8 397.82L509.0 397.50L509.2 397.05L509.4 396.41L509.6 395.54L509.8 394.38L510.0 392.90L510.2 391.08L510.4 388.91L510.6 386.45L510.8 383.79L511.0 381.06L511.2 378.44L511.4 376.11L511.6 374.26L511.8 373.04L512.0 372.55L512.2 373.03L512.4 374.24L512.6 376.09L512.8 378.41L513.0 381.02L513.2 383.74L513.4 386.40L513.6 388.85L513.8 391.02L514.0 392.84L514.2 394.32L514.4 395.47L514.6 396.34L514.8 396.97L515.0 397.43L515.2 397.74L515.4 397.96L515.6 398.11L515.8 398.22L516.0 398.30L516.2 398.37L516.4 398.42L516.6 398.47L516.8 398.51L517.0 398.55L517.2 398.58L517.4 398.62L517.6 398.65L517.8 398.68L518.0 398.71L518.2 398.74L518.7 398.81L519.2 398.88L519.7 398.94L520.2 398.99L520.7 399.04L521.2 399.08L521.7 399.13L522.2 399.16L522.7 399.20L523.2 399.23L523.7 399.26L524.2 399.28L524.7 399.31L525.2 399.33L525.7 399.35L526.2 399.36L526.7 399.38L527.2 399.40L527.7 399.41L528.2 399.42L528.7 399.43L529.2 399.44L529.7 399.45L530.2 399.46L530.7 399.47L531.2 399.48L531.7 399.48L532.2 399.49L532.7 399.50L533.2 399.50L533.7 399.51L534.2 399.51L534.7 399.51L535.2 399.52L535.7 399.52L536.2 399.52L536.7 399.53L537.2 399.53L537.7 399.53L538.2 399.53L538.7 399.53L539.2 399.54L539.7 399.54L540.2 399.54L540.7 399.54L541.2 399.54L541.7 399.54L542.2 399.54L542.7 399.54L543.2 399.55L543.7 399.55L544.2 399.55L544.7 399.55L544.70 399.55Z" fill="#9E9100"/>
<path d="M474.00 443.03L474.0 443.03L474.5 443.03L475.0 443.03L475.5 443.02L476.0 443.02L476.5 443.02L477.0 443.02L477.5 443.02L478.0 443.02L478.5 443.02L479.0 443.02L479.5 443.02L480.0 443.02L480.5 443.01L481.0 443.01L481.5 443.01L482.0 443.01L482.5 443.00L483.0 443.00L483.5 442.99L484.0 442.98L484.5 442.98L485.0 442.97L485.5 442.96L486.0 442.95L486.5 442.93L487.0 442.92L487.5 442.90L488.0 442.88L488.5 442.86L489.0 442.84L489.5 442.81L490.0 442.78L490.5 442.75L491.0 442.72L491.5 442.68L492.0 442.64L492.5 442.59L493.0 442.55L493.5 442.49L494.0 442.44L494.5 442.39L495.0 442.33L495.5 442.27L496.0 442.20L496.5 442.14L497.0 442.07L497.5 442.00L498.0 441.93L498.5 441.87L499.0 441.80L499.5 441.73L500.0 441.67L500.5 441.60L501.0 441.55L501.5 441.49L502.0 441.44L502.5 441.39L503.0 441.35L503.5 441.31L504.0 441.28L504.5 441.26L505.0 441.24L505.5 441.23L506.0 441.23L506.2 441.23L506.4 441.24L506.6 441.26L506.8 441.29L507.0 441.32L507.2 441.36L507.4 441.40L507.6 441.45L507.8 441.49L508.0 441.53L508.2 441.55L508.4 441.53L508.6 441.46L508.8 441.30L509.0 441.02L509.2 440.56L509.4 439.85L509.6 438.83L509.8 437.43L510.0 435.59L510.2 433.28L510.4 430.52L510.6 427.36L510.8 423.94L511.0 420.43L511.2 417.06L511.4 414.08L511.6 411.75L511.8 410.27L512.0 409.78L512.2 410.34L512.4 411.88L512.6 414.28L512.8 417.32L513.0 420.76L513.2 424.34L513.4 427.83L513.6 431.06L513.8 433.89L514.0 436.27L514.2 438.19L514.4 439.67L514.6 440.77L514.8 441.55L515.0 442.09L515.2 442.45L515.4 442.68L515.6 442.83L515.8 442.91L516.0 442.96L516.2 442.99L516.4 443.01L516.6 443.02L516.8 443.02L517.0 443.02L517.2 443.02L517.4 443.02L517.6 443.02L517.8 443.03L518.0 443.03L518.2 443.03L518.7 443.03L519.2 443.03L519.7 443.03L520.2 443.03L520.7 443.03L521.2 443.03L521.7 443.03L522.2 443.03L522.7 443.03L523.2 443.03L523.7 443.03L524.2 443.03L524.7 443.03L525.2 443.03L525.7 443.03L526.2 443.03L526.7 443.03L527.2 443.03L527.7 443.03L528.2 443.03L528.7 443.03L529.2 443.03L529.7 443.03L530.2 443.03L530.7 443.03L531.2 443.03L531.7 443.03L532.2 443.03L532.7 443.03L533.2 443.03L533.7 443.03L534.2 443.03L534.7 443.03L535.2 443.03L535.7 443.03L536.2 443.03L536.7 443.03L537.2 443.03L537.7 443.03L537.70 443.03Z" fill="#D37905"/>
<path d="M479.00 486.50L479.0 486.50L479.5 486.50L480.0 486.50L480.5 486.50L481.0 486.50L481.5 486.50L482.0 486.50L482.5 486.49L483.0 486.49L483.5 486.49L484.0 486.49L484.5 486.49L485.0 486.49L485.5 486.48L486.0 486.48L486.5 486.48L487.0 486.47L487.5 486.47L488.0 486.46L488.5 486.45L489.0 486.44L489.5 486.43L490.0 486.42L490.5 486.40L491.0 486.39L491.5 486.37L492.0 486.35L492.5 486.32L493.0 486.29L493.5 486.26L494.0 486.23L494.5 486.19L495.0 486.15L495.5 486.11L496.0 486.06L496.5 486.01L497.0 485.96L497.5 485.90L498.0 485.84L498.5 485.78L499.0 485.72L499.5 485.65L500.0 485.59L500.5 485.52L501.0 485.46L501.5 485.40L502.0 485.34L502.5 485.28L503.0 485.22L503.5 485.17L504.0 485.13L504.5 485.09L505.0 485.06L505.5 485.03L506.0 485.01L506.2 485.01L506.4 485.00L506.6 485.00L506.8 485.00L507.0 485.00L507.2 485.00L507.4 485.00L507.6 485.01L507.8 485.02L508.0 485.02L508.2 485.00L508.4 484.94L508.6 484.83L508.8 484.62L509.0 484.27L509.2 483.73L509.4 482.91L509.6 481.74L509.8 480.15L510.0 478.08L510.2 475.48L510.4 472.37L510.6 468.83L510.8 464.98L511.0 461.04L511.2 457.27L511.4 453.93L511.6 451.32L511.8 449.67L512.0 449.12L512.2 449.75L512.4 451.49L512.6 454.18L512.8 457.60L513.0 461.46L513.2 465.48L513.4 469.40L513.6 473.03L513.8 476.21L514.0 478.89L514.2 481.04L514.4 482.70L514.6 483.94L514.8 484.82L515.0 485.43L515.2 485.84L515.4 486.10L515.6 486.26L515.8 486.36L516.0 486.42L516.2 486.45L516.4 486.47L516.6 486.48L516.8 486.49L517.0 486.49L517.2 486.49L517.4 486.49L517.6 486.49L517.8 486.50L518.0 486.50L518.2 486.50L518.7 486.50L519.2 486.50L519.7 486.50L520.2 486.50L520.7 486.50L521.2 486.50L521.7 486.50L522.2 486.50L522.7 486.50L523.2 486.50L523.7 486.50L524.2 486.50L524.7 486.50L525.2 486.50L525.7 486.50L526.2 486.50L526.7 486.50L527.2 486.50L527.7 486.50L528.2 486.50L528.7 486.50L529.2 486.50L529.7 486.50L530.2 486.50L530.7 486.50L531.2 486.50L531.7 486.50L532.2 486.50L532.7 486.50L533.2 486.50L533.7 486.50L534.2 486.50L534.7 486.50L534.70 486.50Z" fill="#F45B58"/>
<path d="M456.60 87.65L464.20 95.25L456.60 102.85L449.00 95.25Z" fill="#000"/>
<path d="M567.40 131.12L575.00 138.72L567.40 146.32L559.80 138.72Z" fill="#000"/>
<path d="M512.00 174.59L519.60 182.19L512.00 189.79L504.40 182.19Z" fill="#000"/>
<path d="M622.80 218.07L630.40 225.67L622.80 233.27L615.20 225.67Z" fill="#000"/>
<path d="M512.00 261.54L519.60 269.14L512.00 276.74L504.40 269.14Z" fill="#000"/>
<path d="M401.20 305.01L408.80 312.61L401.20 320.21L393.60 312.61Z" fill="#000"/>
<path d="M512.00 348.48L519.60 356.08L512.00 363.68L504.40 356.08Z" fill="#000"/>
<path d="M512.00 391.95L519.60 399.55L512.00 407.15L504.40 399.55Z" fill="#000"/>
<path d="M512.00 435.43L519.60 443.03L512.00 450.63L504.40 443.03Z" fill="#000"/>
<path d="M512.00 478.90L519.60 486.50L512.00 494.10L504.40 486.50Z" fill="#000"/>
</g>
<rect x="386.1" y="15.1" width="266.8" height="47.2" fill="#D0D0D0"/>
<rect x="386.1" y="15.1" width="266.8" height="1.7" fill="#414141"/>
<rect x="386.1" y="15.1" width="1.7" height="47.2" fill="#414141"/>
<rect x="651.2" y="15.1" width="1.7" height="47.2" fill="#414141"/>
<rect x="386.1" y="60.7" width="266.8" height="1.6" fill="#262626"/>
<rect x="386.1" y="62.3" width="266.8" height="1.6" fill="#4c4c4c"/>
<rect x="386.1" y="62.3" width="1.7" height="450.2" fill="#414141"/>
<rect x="651.2" y="62.3" width="1.7" height="450.2" fill="#414141"/>
<rect x="386.1" y="510.8" width="266.8" height="1.7" fill="#3c3c3c"/>
<text x="519.4" y="47.7" font-size="24.4" text-anchor="middle" fill="#1a1a1a">Cell type 2</text>
<line x1="401.20" x2="401.20" y1="512.6" y2="519.8" stroke="#202020" stroke-width="2.9"/>
<text x="400.70" y="543.7" font-size="24.3" text-anchor="middle" fill="#4d4d4d">-1.0</text>
<line x1="456.60" x2="456.60" y1="512.6" y2="519.8" stroke="#202020" stroke-width="2.9"/>
<text x="456.10" y="543.7" font-size="24.3" text-anchor="middle" fill="#4d4d4d">-0.5</text>
<line x1="512.00" x2="512.00" y1="512.6" y2="519.8" stroke="#202020" stroke-width="2.9"/>
<text x="511.50" y="543.7" font-size="24.3" text-anchor="middle" fill="#4d4d4d">0.0</text>
<line x1="567.40" x2="567.40" y1="512.6" y2="519.8" stroke="#202020" stroke-width="2.9"/>
<text x="566.90" y="543.7" font-size="24.3" text-anchor="middle" fill="#4d4d4d">0.5</text>
<line x1="622.80" x2="622.80" y1="512.6" y2="519.8" stroke="#202020" stroke-width="2.9"/>
<text x="622.30" y="543.7" font-size="24.3" text-anchor="middle" fill="#4d4d4d">1.0</text>
<g clip-path="url(#cp2)">
<line x1="669" x2="934" y1="95.25" y2="95.25" stroke="#E7E7E7" stroke-width="2.8"/>
<line x1="669" x2="934" y1="138.72" y2="138.72" stroke="#E7E7E7" stroke-width="2.8"/>
<line x1="669" x2="934" y1="182.19" y2="182.19" stroke="#E7E7E7" stroke-width="2.8"/>
<line x1="669" x2="934" y1="225.67" y2="225.67" stroke="#E7E7E7" stroke-width="2.8"/>
<line x1="669" x2="934" y1="269.14" y2="269.14" stroke="#E7E7E7" stroke-width="2.8"/>
<line x1="669" x2="934" y1="312.61" y2="312.61" stroke="#E7E7E7" stroke-width="2.8"/>
<line x1="669" x2="934" y1="356.08" y2="356.08" stroke="#E7E7E7" stroke-width="2.8"/>
<line x1="669" x2="934" y1="399.55" y2="399.55" stroke="#E7E7E7" stroke-width="2.8"/>
<line x1="669" x2="934" y1="443.03" y2="443.03" stroke="#E7E7E7" stroke-width="2.8"/>
<line x1="669" x2="934" y1="486.50" y2="486.50" stroke="#E7E7E7" stroke-width="2.8"/>
<path d="M772.90 95.25L772.9 95.25L773.4 95.25L773.9 95.25L774.4 95.25L774.9 95.25L775.4 95.25L775.9 95.24L776.4 95.24L776.9 95.24L777.4 95.23L777.9 95.22L778.4 95.21L778.9 95.20L779.4 95.18L779.9 95.15L780.4 95.12L780.9 95.09L781.4 95.04L781.9 94.99L782.4 94.93L782.9 94.86L783.4 94.78L783.9 94.70L784.4 94.61L784.9 94.52L785.4 94.43L785.9 94.34L786.4 94.26L786.9 94.19L787.4 94.13L787.9 94.09L788.1 94.07L788.3 94.06L788.5 94.05L788.7 94.05L788.9 94.05L789.1 94.05L789.3 94.05L789.5 94.05L789.7 94.05L789.9 94.04L790.1 94.00L790.3 93.93L790.5 93.78L790.7 93.54L790.9 93.13L791.1 92.50L791.3 91.57L791.5 90.25L791.7 88.47L791.9 86.13L792.1 83.23L792.3 79.75L792.5 75.79L792.7 71.49L792.9 67.09L793.1 62.86L793.3 59.13L793.5 56.19L793.7 54.30L793.9 53.65L794.1 54.29L794.3 56.16L794.5 59.09L794.7 62.81L794.9 67.02L795.1 71.40L795.3 75.68L795.5 79.61L795.7 83.06L795.9 85.94L796.1 88.24L796.3 89.99L796.5 91.27L796.7 92.16L796.9 92.75L797.1 93.11L797.3 93.31L797.5 93.40L797.7 93.42L797.9 93.41L798.1 93.37L798.3 93.31L798.5 93.26L798.7 93.21L798.9 93.16L799.1 93.12L799.3 93.09L799.5 93.07L799.7 93.05L799.9 93.05L800.1 93.05L800.6 93.06L801.1 93.09L801.6 93.14L802.1 93.19L802.6 93.26L803.1 93.34L803.6 93.43L804.1 93.53L804.6 93.63L805.1 93.74L805.6 93.85L806.1 93.96L806.6 94.07L807.1 94.18L807.6 94.28L808.1 94.39L808.6 94.48L809.1 94.57L809.6 94.65L810.1 94.73L810.6 94.80L811.1 94.86L811.6 94.92L812.1 94.97L812.6 95.02L813.1 95.05L813.6 95.09L814.1 95.12L814.6 95.14L815.1 95.16L815.6 95.18L816.1 95.19L816.6 95.20L817.1 95.21L817.6 95.22L818.1 95.23L818.6 95.23L819.1 95.24L819.6 95.24L820.1 95.24L820.6 95.24L821.1 95.25L821.6 95.25L822.1 95.25L822.6 95.25L823.1 95.25L823.6 95.25L823.60 95.25Z" fill="#E849E6"/>
<path d="M763.90 138.72L763.9 138.72L764.4 138.72L764.9 138.72L765.4 138.72L765.9 138.72L766.4 138.72L766.9 138.72L767.4 138.71L767.9 138.71L768.4 138.71L768.9 138.71L769.4 138.71L769.9 138.71L770.4 138.71L770.9 138.71L771.4 138.71L771.9 138.70L772.4 138.70L772.9 138.70L773.4 138.70L773.9 138.69L774.4 138.69L774.9 138.69L775.4 138.68L775.9 138.68L776.4 138.68L776.9 138.67L777.4 138.67L777.9 138.66L778.4 138.65L778.9 138.65L779.4 138.64L779.9 138.63L780.4 138.62L780.9 138.61L781.4 138.60L781.9 138.59L782.4 138.57L782.9 138.56L783.4 138.54L783.9 138.52L784.4 138.50L784.9 138.47L785.4 138.45L785.9 138.42L786.4 138.39L786.9 138.35L787.4 138.31L787.9 138.27L788.1 138.25L788.3 138.23L788.5 138.21L788.7 138.19L788.9 138.17L789.1 138.14L789.3 138.12L789.5 138.08L789.7 138.04L789.9 137.98L790.1 137.89L790.3 137.76L790.5 137.56L790.7 137.26L790.9 136.79L791.1 136.11L791.3 135.13L791.5 133.77L791.7 131.95L791.9 129.60L792.1 126.68L792.3 123.21L792.5 119.27L792.7 115.01L792.9 110.64L793.1 106.45L793.3 102.74L793.5 99.81L793.7 97.91L793.9 97.72L794.1 98.40L794.3 100.29L794.5 103.21L794.7 106.91L794.9 111.09L795.1 115.45L795.3 119.70L795.5 123.63L795.7 127.09L795.9 129.99L796.1 132.33L796.3 134.15L796.5 135.50L796.7 136.47L796.9 137.14L797.1 137.60L797.3 137.90L797.5 138.09L797.7 138.21L797.9 138.29L798.1 138.34L798.3 138.37L798.5 138.40L798.7 138.42L798.9 138.43L799.1 138.45L799.3 138.46L799.5 138.48L799.7 138.49L799.9 138.50L800.1 138.51L800.6 138.53L801.1 138.56L801.6 138.58L802.1 138.59L802.6 138.61L803.1 138.62L803.6 138.63L804.1 138.64L804.6 138.65L805.1 138.66L805.6 138.67L806.1 138.67L806.6 138.68L807.1 138.69L807.6 138.69L808.1 138.69L808.6 138.70L809.1 138.70L809.6 138.70L810.1 138.70L810.6 138.71L811.1 138.71L811.6 138.71L812.1 138.71L812.6 138.71L813.1 138.71L813.6 138.71L814.1 138.72L814.6 138.72L815.1 138.72L815.6 138.72L816.1 138.72L816.6 138.72L817.1 138.72L817.6 138.72L818.1 138.72L818.6 138.72L819.1 138.72L819.6 138.72L820.1 138.72L820.6 138.72L821.1 138.72L821.6 138.72L822.1 138.72L822.6 138.72L823.1 138.72L823.6 138.72L823.60 138.72Z" fill="#A16AFD"/>
<path d="M875.30 182.19L875.3 182.19L875.8 182.19L876.3 182.19L876.8 182.19L877.3 182.19L877.8 182.18L878.3 182.18L878.8 182.17L879.3 182.17L879.8 182.16L880.3 182.15L880.8 182.14L881.3 182.12L881.8 182.10L882.3 182.08L882.8 182.05L883.3 182.02L883.8 181.98L884.3 181.93L884.8 181.87L885.3 181.80L885.8 181.72L886.3 181.63L886.8 181.52L887.3 181.40L887.8 181.26L888.3 181.10L888.8 180.92L889.3 180.72L889.8 180.50L890.3 180.26L890.8 180.00L891.3 179.71L891.8 179.41L892.3 179.09L892.8 178.75L893.3 178.40L893.8 178.03L894.3 177.66L894.8 177.28L895.3 176.90L895.8 176.53L896.3 176.17L896.8 175.82L897.3 175.49L897.8 175.19L898.3 174.91L898.8 174.67L899.3 174.47L899.8 174.31L900.3 174.19L900.8 174.12L901.3 174.09L901.8 174.12L902.3 174.19L902.8 174.31L903.3 174.47L903.8 174.67L904.3 174.91L904.8 175.19L905.3 175.49L905.8 175.82L906.3 176.17L906.8 176.53L907.3 176.90L907.8 177.28L908.3 177.66L908.8 178.03L909.3 178.40L909.8 178.75L910.3 179.09L910.8 179.41L911.3 179.71L911.8 180.00L912.3 180.26L912.8 180.50L913.3 180.72L913.8 180.92L914.3 181.10L914.8 181.26L915.3 181.40L915.8 181.52L916.3 181.63L916.8 181.72L917.3 181.80L917.8 181.87L918.3 181.93L918.8 181.98L919.3 182.02L919.8 182.05L920.3 182.08L920.8 182.10L921.3 182.12L921.8 182.14L922.3 182.15L922.8 182.16L923.3 182.17L923.8 182.17L924.3 182.18L924.8 182.18L925.3 182.19L925.8 182.19L926.3 182.19L926.8 182.19L927.3 182.19L927.30 182.19Z" fill="#0A8EFC"/>
<path d="M708.50 225.67L708.5 225.66L709.0 225.66L709.5 225.66L710.0 225.66L710.5 225.66L711.0 225.65L711.5 225.65L712.0 225.64L712.5 225.64L713.0 225.63L713.5 225.61L714.0 225.60L714.5 225.58L715.0 225.56L715.5 225.53L716.0 225.49L716.5 225.45L717.0 225.39L717.5 225.33L718.0 225.25L718.5 225.16L719.0 225.05L719.5 224.93L720.0 224.79L720.5 224.62L721.0 224.44L721.5 224.23L722.0 224.00L722.5 223.75L723.0 223.47L723.5 223.17L724.0 222.84L724.5 222.50L725.0 222.14L725.5 221.77L726.0 221.38L726.5 221.00L727.0 220.61L727.5 220.22L728.0 219.85L728.5 219.50L729.0 219.17L729.5 218.87L730.0 218.61L730.5 218.38L731.0 218.20L731.5 218.07L732.0 217.99L732.5 217.97L733.0 217.99L733.5 218.07L734.0 218.20L734.5 218.38L735.0 218.61L735.5 218.87L736.0 219.17L736.5 219.50L737.0 219.85L737.5 220.22L738.0 220.61L738.5 221.00L739.0 221.38L739.5 221.77L740.0 222.14L740.5 222.50L741.0 222.84L741.5 223.17L742.0 223.47L742.5 223.75L743.0 224.00L743.5 224.23L744.0 224.44L744.5 224.62L745.0 224.79L745.5 224.93L746.0 225.05L746.5 225.16L747.0 225.25L747.5 225.33L748.0 225.39L748.5 225.45L749.0 225.49L749.5 225.53L750.0 225.56L750.5 225.58L751.0 225.60L751.5 225.61L752.0 225.63L752.5 225.64L753.0 225.64L753.5 225.65L754.0 225.65L754.5 225.66L755.0 225.66L755.5 225.66L756.0 225.66L756.5 225.66L756.50 225.67Z" fill="#0DAAD6"/>
<path d="M684.20 269.14L684.2 269.08L684.7 269.07L685.2 269.06L685.7 269.04L686.2 269.02L686.7 269.00L687.2 268.97L687.7 268.94L688.2 268.91L688.7 268.87L689.2 268.82L689.7 268.77L690.2 268.71L690.7 268.64L691.2 268.56L691.7 268.47L692.2 268.37L692.7 268.26L693.2 268.13L693.7 267.99L694.2 267.83L694.7 267.65L695.2 267.46L695.7 267.25L696.2 267.02L696.7 266.77L697.2 266.49L697.7 266.20L698.2 265.89L698.7 265.55L699.2 265.20L699.7 264.83L700.2 264.44L700.7 264.05L701.2 263.64L701.7 263.22L702.2 262.80L702.7 262.39L703.2 261.99L703.7 261.60L704.2 261.24L704.7 260.92L705.2 260.65L705.7 260.44L706.2 260.34L706.7 260.43L707.2 260.62L707.7 260.87L708.2 261.17L708.7 261.50L709.2 261.86L709.7 262.23L710.2 262.62L710.7 263.01L711.2 263.41L711.7 263.80L712.2 264.18L712.7 264.56L713.2 264.92L713.7 265.27L714.2 265.60L714.7 265.91L715.2 266.21L715.7 266.48L716.2 266.74L716.7 266.98L717.2 267.21L717.7 267.41L718.2 267.60L718.7 267.77L719.2 267.92L719.7 268.06L720.2 268.19L720.7 268.31L721.2 268.41L721.7 268.50L722.2 268.58L722.7 268.65L723.2 268.72L723.7 268.77L724.2 268.82L724.7 268.87L725.2 268.91L725.7 268.94L726.2 268.97L726.7 268.99L727.2 269.01L727.7 269.03L728.2 269.05L728.20 269.14Z" fill="#0DB392"/>
<path d="M763.90 312.61L763.9 312.61L764.4 312.61L764.9 312.61L765.4 312.61L765.9 312.61L766.4 312.61L766.9 312.61L767.4 312.61L767.9 312.61L768.4 312.61L768.9 312.61L769.4 312.61L769.9 312.61L770.4 312.61L770.9 312.61L771.4 312.61L771.9 312.61L772.4 312.60L772.9 312.60L773.4 312.60L773.9 312.60L774.4 312.60L774.9 312.60L775.4 312.60L775.9 312.60L776.4 312.59L776.9 312.59L777.4 312.59L777.9 312.59L778.4 312.59L778.9 312.58L779.4 312.58L779.9 312.57L780.4 312.57L780.9 312.56L781.4 312.56L781.9 312.55L782.4 312.54L782.9 312.53L783.4 312.52L783.9 312.51L784.4 312.50L784.9 312.48L785.4 312.47L785.9 312.45L786.4 312.43L786.9 312.40L787.4 312.37L787.9 312.34L788.1 312.33L788.3 312.31L788.5 312.30L788.7 312.28L788.9 312.26L789.1 312.24L789.3 312.22L789.5 312.19L789.7 312.16L789.9 312.11L790.1 312.03L790.3 311.91L790.5 311.73L790.7 311.45L790.9 311.02L791.1 310.39L791.3 309.48L791.5 308.23L791.7 306.54L791.9 304.37L792.1 301.67L792.3 298.47L792.5 294.82L792.7 290.88L792.9 286.84L793.1 282.96L793.3 279.52L793.5 276.81L793.7 275.05L793.9 274.11L794.1 274.75L794.3 276.51L794.5 279.23L794.7 282.66L794.9 286.55L795.1 290.59L795.3 294.54L795.5 298.18L795.7 301.39L795.9 304.09L796.1 306.27L796.3 307.96L796.5 309.22L796.7 310.13L796.9 310.76L797.1 311.19L797.3 311.48L797.5 311.67L797.7 311.79L797.9 311.87L798.1 311.93L798.3 311.97L798.5 312.00L798.7 312.03L798.9 312.06L799.1 312.08L799.3 312.10L799.5 312.12L799.7 312.14L799.9 312.16L800.1 312.18L800.6 312.22L801.1 312.25L801.6 312.29L802.1 312.32L802.6 312.35L803.1 312.37L803.6 312.39L804.1 312.41L804.6 312.43L805.1 312.45L805.6 312.47L806.1 312.48L806.6 312.49L807.1 312.50L807.6 312.51L808.1 312.52L808.6 312.53L809.1 312.54L809.6 312.55L810.1 312.55L810.6 312.56L811.1 312.56L811.6 312.57L812.1 312.57L812.6 312.57L813.1 312.58L813.6 312.58L814.1 312.58L814.6 312.59L815.1 312.59L815.6 312.59L816.1 312.59L816.6 312.59L817.1 312.60L817.6 312.60L818.1 312.60L818.6 312.60L819.1 312.60L819.6 312.60L820.1 312.60L820.6 312.60L821.1 312.60L821.6 312.60L822.1 312.60L822.6 312.61L823.1 312.61L823.6 312.61L823.60 312.61Z" fill="#0CAE47"/>
<path d="M777.50 356.08L777.5 356.08L778.0 356.08L778.5 356.08L779.0 356.08L779.5 356.08L780.0 356.08L780.5 356.08L781.0 356.08L781.5 356.08L782.0 356.08L782.5 356.08L783.0 356.08L783.5 356.08L784.0 356.08L784.5 356.08L785.0 356.08L785.5 356.08L786.0 356.08L786.5 356.08L787.0 356.08L787.5 356.08L788.0 356.08L788.5 356.08L789.0 356.08L789.2 356.08L789.4 356.08L789.6 356.08L789.8 356.08L790.0 356.08L790.2 356.07L790.4 356.06L790.6 356.04L790.8 356.00L791.0 355.92L791.2 355.79L791.4 355.57L791.6 355.22L791.8 354.69L792.0 353.92L792.2 352.87L792.4 351.51L792.6 349.85L792.8 347.96L793.0 345.95L793.2 343.99L793.4 342.26L793.6 340.98L793.8 340.29L794.0 340.27L794.2 340.94L794.4 342.20L794.6 343.89L794.8 345.83L795.0 347.81L795.2 349.67L795.4 351.30L795.6 352.62L795.8 353.63L796.0 354.36L796.2 354.84L796.4 355.14L796.6 355.31L796.8 355.38L797.0 355.39L797.2 355.36L797.4 355.30L797.6 355.23L797.8 355.15L798.0 355.06L798.2 354.97L798.4 354.86L798.6 354.75L798.8 354.63L799.0 354.51L799.2 354.38L799.7 354.02L800.2 353.63L800.7 353.21L801.2 352.77L801.7 352.32L802.2 351.88L802.7 351.46L803.2 351.08L803.7 350.75L804.2 350.49L804.7 350.30L805.2 350.20L805.7 350.18L806.2 350.21L806.7 350.27L807.2 350.35L807.7 350.47L808.2 350.60L808.7 350.77L809.2 350.95L809.7 351.15L810.2 351.37L810.7 351.60L811.2 351.85L811.7 352.10L812.2 352.35L812.7 352.61L813.2 352.86L813.7 353.11L814.2 353.36L814.7 353.59L815.2 353.82L815.7 354.04L816.2 354.25L816.7 354.44L817.2 354.62L817.7 354.79L818.2 354.94L818.7 355.09L819.2 355.21L819.7 355.33L820.2 355.43L820.7 355.52L821.2 355.61L821.7 355.68L822.2 355.74L822.7 355.79L823.2 355.84L823.7 355.88L824.2 355.92L824.7 355.94L825.2 355.97L825.7 355.99L826.2 356.01L826.7 356.02L827.2 356.03L827.7 356.04L828.2 356.05L828.7 356.06L829.2 356.06L829.7 356.07L830.2 356.07L830.7 356.07L831.2 356.08L831.7 356.08L832.2 356.08L832.7 356.08L833.2 356.08L833.20 356.08Z" fill="#4FA206"/>
<path d="M775.90 399.55L775.9 399.55L776.4 399.55L776.9 399.55L777.4 399.55L777.9 399.55L778.4 399.55L778.9 399.55L779.4 399.55L779.9 399.54L780.4 399.54L780.9 399.54L781.4 399.54L781.9 399.54L782.4 399.53L782.9 399.53L783.4 399.52L783.9 399.52L784.4 399.51L784.9 399.50L785.4 399.50L785.9 399.48L786.4 399.47L786.9 399.46L787.4 399.44L787.9 399.42L788.1 399.41L788.3 399.40L788.5 399.39L788.7 399.38L788.9 399.36L789.1 399.35L789.3 399.33L789.5 399.31L789.7 399.27L789.9 399.22L790.1 399.15L790.3 399.03L790.5 398.84L790.7 398.55L790.9 398.11L791.1 397.45L791.3 396.50L791.5 395.18L791.7 393.41L791.9 391.12L792.1 388.29L792.3 384.91L792.5 381.07L792.7 376.92L792.9 372.66L793.1 368.57L793.3 364.95L793.5 362.09L793.7 360.24L793.9 359.55L794.1 360.24L794.3 362.09L794.5 364.95L794.7 368.57L794.9 372.66L795.1 376.92L795.3 381.07L795.5 384.91L795.7 388.29L795.9 391.12L796.1 393.41L796.3 395.18L796.5 396.50L796.7 397.45L796.9 398.11L797.1 398.55L797.3 398.84L797.5 399.03L797.7 399.15L797.9 399.22L798.1 399.27L798.3 399.31L798.5 399.33L798.7 399.35L798.9 399.36L799.1 399.38L799.3 399.39L799.5 399.40L799.7 399.41L799.9 399.42L800.1 399.43L800.6 399.45L801.1 399.46L801.6 399.48L802.1 399.49L802.6 399.50L803.1 399.51L803.6 399.51L804.1 399.52L804.6 399.53L805.1 399.53L805.6 399.53L806.1 399.54L806.6 399.54L807.1 399.54L807.6 399.54L808.1 399.55L808.6 399.55L809.1 399.55L809.6 399.55L810.1 399.55L810.6 399.55L811.1 399.55L811.6 399.55L811.60 399.55Z" fill="#9E9100"/>
<path d="M763.90 443.03L763.9 443.02L764.4 443.02L764.9 443.02L765.4 443.02L765.9 443.01L766.4 443.01L766.9 443.01L767.4 443.01L767.9 443.01L768.4 443.01L768.9 443.01L769.4 443.00L769.9 443.00L770.4 443.00L770.9 443.00L771.4 442.99L771.9 442.99L772.4 442.99L772.9 442.98L773.4 442.98L773.9 442.97L774.4 442.97L774.9 442.96L775.4 442.95L775.9 442.94L776.4 442.94L776.9 442.93L777.4 442.92L777.9 442.90L778.4 442.89L778.9 442.88L779.4 442.86L779.9 442.84L780.4 442.82L780.9 442.80L781.4 442.78L781.9 442.75L782.4 442.73L782.9 442.69L783.4 442.66L783.9 442.62L784.4 442.58L784.9 442.53L785.4 442.48L785.9 442.42L786.4 442.36L786.9 442.29L787.4 442.21L787.9 442.12L788.1 442.09L788.3 442.05L788.5 442.01L788.7 441.97L788.9 441.92L789.1 441.87L789.3 441.82L789.5 441.77L789.7 441.71L789.9 441.63L790.1 441.54L790.3 441.42L790.5 441.25L790.7 441.01L790.9 440.67L791.1 440.19L791.3 439.52L791.5 438.60L791.7 437.39L791.9 435.84L792.1 433.92L792.3 431.66L792.5 429.08L792.7 426.30L792.9 423.45L793.1 420.71L793.3 418.27L793.5 416.33L793.7 415.05L793.9 414.53L794.1 415.05L794.3 416.33L794.5 418.27L794.7 420.71L794.9 423.45L795.1 426.30L795.3 429.08L795.5 431.66L795.7 433.92L795.9 435.84L796.1 437.39L796.3 438.60L796.5 439.52L796.7 440.19L796.9 440.67L797.1 441.01L797.3 441.25L797.5 441.42L797.7 441.54L797.9 441.63L798.1 441.71L798.3 441.77L798.5 441.82L798.7 441.87L798.9 441.92L799.1 441.97L799.3 442.01L799.5 442.05L799.7 442.09L799.9 442.12L800.1 442.16L800.6 442.24L801.1 442.32L801.6 442.38L802.1 442.44L802.6 442.50L803.1 442.55L803.6 442.59L804.1 442.64L804.6 442.67L805.1 442.71L805.6 442.74L806.1 442.76L806.6 442.79L807.1 442.81L807.6 442.83L808.1 442.85L808.6 442.87L809.1 442.88L809.6 442.90L810.1 442.91L810.6 442.92L811.1 442.93L811.6 442.94L812.1 442.95L812.6 442.95L813.1 442.96L813.6 442.97L814.1 442.97L814.6 442.98L815.1 442.98L815.6 442.99L816.1 442.99L816.6 442.99L817.1 443.00L817.6 443.00L818.1 443.00L818.6 443.00L819.1 443.01L819.6 443.01L820.1 443.01L820.6 443.01L821.1 443.01L821.6 443.01L822.1 443.02L822.6 443.02L823.1 443.02L823.6 443.02L823.60 443.03Z" fill="#D37905"/>
<path d="M757.90 486.50L757.9 486.50L758.4 486.50L758.9 486.50L759.4 486.50L759.9 486.50L760.4 486.50L760.9 486.50L761.4 486.50L761.9 486.50L762.4 486.50L762.9 486.50L763.4 486.50L763.9 486.50L764.4 486.50L764.9 486.50L765.4 486.50L765.9 486.50L766.4 486.50L766.9 486.50L767.4 486.50L767.9 486.50L768.4 486.50L768.9 486.50L769.4 486.50L769.9 486.50L770.4 486.50L770.9 486.50L771.4 486.50L771.9 486.50L772.4 486.50L772.9 486.50L773.4 486.50L773.9 486.50L774.4 486.50L774.9 486.50L775.4 486.50L775.9 486.50L776.4 486.50L776.9 486.50L777.4 486.50L777.9 486.50L778.4 486.50L778.9 486.49L779.4 486.49L779.9 486.49L780.4 486.49L780.9 486.49L781.4 486.49L781.9 486.49L782.4 486.49L782.9 486.49L783.4 486.48L783.9 486.48L784.4 486.48L784.9 486.47L785.4 486.47L785.9 486.46L786.4 486.46L786.9 486.45L787.4 486.44L787.9 486.43L788.1 486.43L788.3 486.42L788.5 486.42L788.7 486.41L788.9 486.40L789.1 486.39L789.3 486.38L789.5 486.37L789.7 486.34L789.9 486.30L790.1 486.24L790.3 486.13L790.5 485.96L790.7 485.68L790.9 485.26L791.1 484.63L791.3 483.72L791.5 482.45L791.7 480.74L791.9 478.53L792.1 475.78L792.3 472.51L792.5 468.79L792.7 464.76L792.9 460.63L793.1 456.67L793.3 453.17L793.5 450.41L793.7 448.63L793.9 447.50L794.1 448.13L794.3 449.91L794.5 452.67L794.7 456.18L794.9 460.14L795.1 464.27L795.3 468.31L795.5 472.04L795.7 475.31L795.9 478.07L796.1 480.28L796.3 482.00L796.5 483.28L796.7 484.20L796.9 484.84L797.1 485.27L797.3 485.55L797.5 485.73L797.7 485.85L797.9 485.92L798.1 485.97L798.3 486.00L798.5 486.03L798.7 486.04L798.9 486.06L799.1 486.08L799.3 486.09L799.5 486.10L799.7 486.12L799.9 486.13L800.1 486.14L800.6 486.17L801.1 486.20L801.6 486.22L802.1 486.24L802.6 486.26L803.1 486.28L803.6 486.30L804.1 486.32L804.6 486.33L805.1 486.34L805.6 486.36L806.1 486.37L806.6 486.38L807.1 486.39L807.6 486.40L808.1 486.40L808.6 486.41L809.1 486.42L809.6 486.42L810.1 486.43L810.6 486.44L811.1 486.44L811.6 486.45L812.1 486.45L812.6 486.45L813.1 486.46L813.6 486.46L814.1 486.46L814.6 486.47L815.1 486.47L815.6 486.47L816.1 486.47L816.6 486.48L817.1 486.48L817.6 486.48L818.1 486.48L818.6 486.48L819.1 486.48L819.6 486.48L820.1 486.49L820.6 486.49L821.1 486.49L821.6 486.49L822.1 486.49L822.6 486.49L823.1 486.49L823.6 486.49L824.1 486.49L824.6 486.49L825.1 486.49L825.6 486.49L826.1 486.49L826.6 486.49L827.1 486.49L827.6 486.49L828.1 486.49L828.6 486.49L829.1 486.50L829.6 486.50L829.60 486.50Z" fill="#F45B58"/>
<path d="M793.90 87.65L801.50 95.25L793.90 102.85L786.30 95.25Z" fill="#000"/>
<path d="M793.90 131.12L801.50 138.72L793.90 146.32L786.30 138.72Z" fill="#000"/>
<path d="M904.70 174.59L912.30 182.19L904.70 189.79L897.10 182.19Z" fill="#000"/>
<path d="M738.50 218.07L746.10 225.67L738.50 233.27L730.90 225.67Z" fill="#000"/>
<path d="M716.34 261.54L723.94 269.14L716.34 276.74L708.74 269.14Z" fill="#000"/>
<path d="M793.90 305.01L801.50 312.61L793.90 320.21L786.30 312.61Z" fill="#000"/>
<path d="M793.90 348.48L801.50 356.08L793.90 363.68L786.30 356.08Z" fill="#000"/>
<path d="M793.90 391.95L801.50 399.55L793.90 407.15L786.30 399.55Z" fill="#000"/>
<path d="M793.90 435.43L801.50 443.03L793.90 450.63L786.30 443.03Z" fill="#000"/>
<path d="M793.90 478.90L801.50 486.50L793.90 494.10L786.30 486.50Z" fill="#000"/>
</g>
<rect x="668.1" y="15.1" width="266.8" height="47.2" fill="#D0D0D0"/>
<rect x="668.1" y="15.1" width="266.8" height="1.7" fill="#414141"/>
<rect x="668.1" y="15.1" width="1.7" height="47.2" fill="#414141"/>
<rect x="933.2" y="15.1" width="1.7" height="47.2" fill="#414141"/>
<rect x="668.1" y="60.7" width="266.8" height="1.6" fill="#262626"/>
<rect x="668.1" y="62.3" width="266.8" height="1.6" fill="#4c4c4c"/>
<rect x="668.1" y="62.3" width="1.7" height="450.2" fill="#414141"/>
<rect x="933.2" y="62.3" width="1.7" height="450.2" fill="#414141"/>
<rect x="668.1" y="510.8" width="266.8" height="1.7" fill="#3c3c3c"/>
<text x="801.4" y="47.7" font-size="24.4" text-anchor="middle" fill="#1a1a1a">Cell type 3</text>
<line x1="683.10" x2="683.10" y1="512.6" y2="519.8" stroke="#202020" stroke-width="2.9"/>
<text x="682.60" y="543.7" font-size="24.3" text-anchor="middle" fill="#4d4d4d">-1.0</text>
<line x1="738.50" x2="738.50" y1="512.6" y2="519.8" stroke="#202020" stroke-width="2.9"/>
<text x="738.00" y="543.7" font-size="24.3" text-anchor="middle" fill="#4d4d4d">-0.5</text>
<line x1="793.90" x2="793.90" y1="512.6" y2="519.8" stroke="#202020" stroke-width="2.9"/>
<text x="793.40" y="543.7" font-size="24.3" text-anchor="middle" fill="#4d4d4d">0.0</text>
<line x1="849.30" x2="849.30" y1="512.6" y2="519.8" stroke="#202020" stroke-width="2.9"/>
<text x="848.80" y="543.7" font-size="24.3" text-anchor="middle" fill="#4d4d4d">0.5</text>
<line x1="904.70" x2="904.70" y1="512.6" y2="519.8" stroke="#202020" stroke-width="2.9"/>
<text x="904.20" y="543.7" font-size="24.3" text-anchor="middle" fill="#4d4d4d">1.0</text>
<line x1="96.7" x2="104.1" y1="95.25" y2="95.25" stroke="#202020" stroke-width="2.7"/>
<text x="90.3" y="104.80" font-size="24.3" text-anchor="end" fill="#4d4d4d">x1</text>
<line x1="96.7" x2="104.1" y1="138.72" y2="138.72" stroke="#202020" stroke-width="2.7"/>
<text x="89.9" y="148.27" font-size="24.3" text-anchor="end" fill="#4d4d4d">x2</text>
<line x1="96.7" x2="104.1" y1="182.19" y2="182.19" stroke="#202020" stroke-width="2.7"/>
<text x="89.9" y="191.74" font-size="24.3" text-anchor="end" fill="#4d4d4d">x3</text>
<line x1="96.7" x2="104.1" y1="225.67" y2="225.67" stroke="#202020" stroke-width="2.7"/>
<text x="89.9" y="235.22" font-size="24.3" text-anchor="end" fill="#4d4d4d">x4</text>
<line x1="96.7" x2="104.1" y1="269.14" y2="269.14" stroke="#202020" stroke-width="2.7"/>
<text x="89.9" y="278.69" font-size="24.3" text-anchor="end" fill="#4d4d4d">x5</text>
<line x1="96.7" x2="104.1" y1="312.61" y2="312.61" stroke="#202020" stroke-width="2.7"/>
<text x="89.9" y="322.16" font-size="24.3" text-anchor="end" fill="#4d4d4d">x6</text>
<line x1="96.7" x2="104.1" y1="356.08" y2="356.08" stroke="#202020" stroke-width="2.7"/>
<text x="89.9" y="365.63" font-size="24.3" text-anchor="end" fill="#4d4d4d">x7</text>
<line x1="96.7" x2="104.1" y1="399.55" y2="399.55" stroke="#202020" stroke-width="2.7"/>
<text x="89.9" y="409.10" font-size="24.3" text-anchor="end" fill="#4d4d4d">x8</text>
<line x1="96.7" x2="104.1" y1="443.03" y2="443.03" stroke="#202020" stroke-width="2.7"/>
<text x="89.9" y="452.58" font-size="24.3" text-anchor="end" fill="#4d4d4d">x9</text>
<line x1="96.7" x2="104.1" y1="486.50" y2="486.50" stroke="#202020" stroke-width="2.7"/>
<text x="89.9" y="496.05" font-size="24.3" text-anchor="end" fill="#4d4d4d">x10</text>
<text x="519.1" y="578.6" font-size="30.8" text-anchor="middle" fill="#000">Effect</text>
</svg></body></html>
